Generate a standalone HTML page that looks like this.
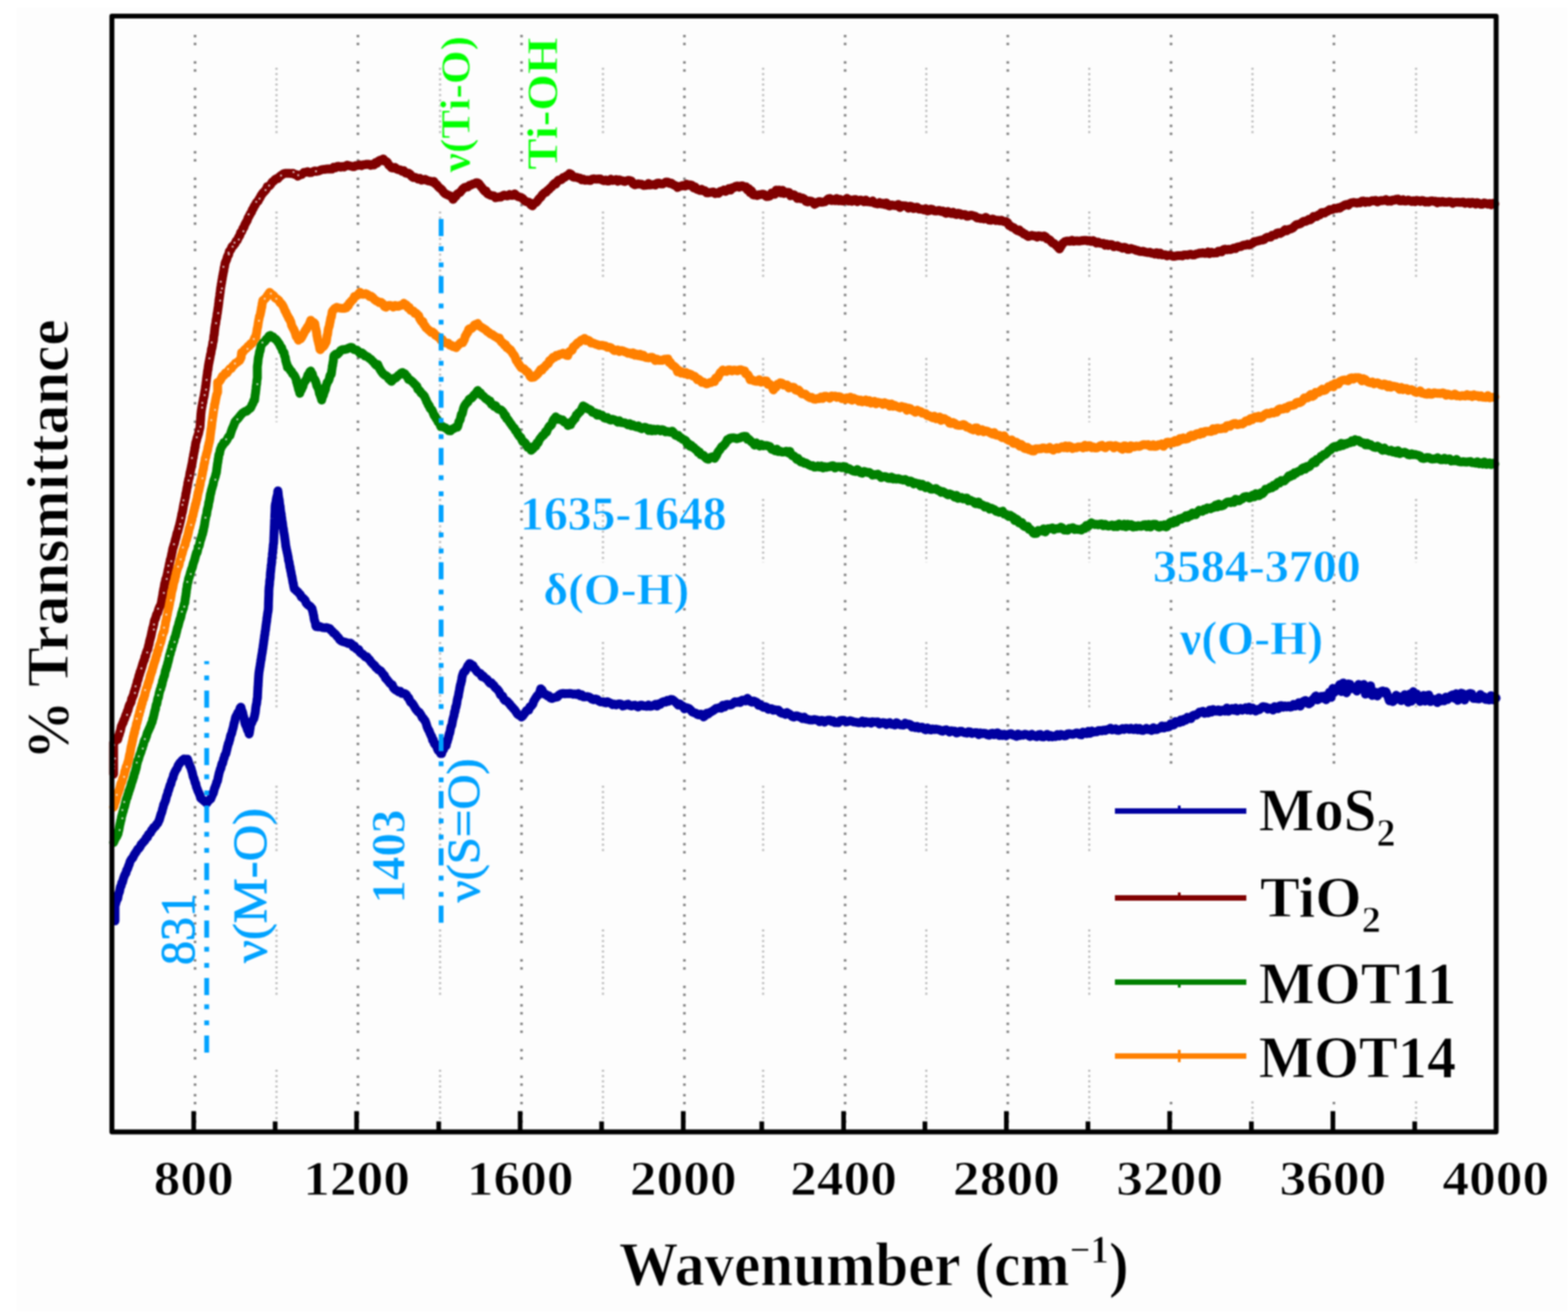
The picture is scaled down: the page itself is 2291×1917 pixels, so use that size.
<!DOCTYPE html>
<html><head><meta charset="utf-8"><title>FTIR spectra</title><style>html,body{margin:0;padding:0;background:#fff;}svg{display:block;filter:blur(1px);}</style></head><body>
<svg width="2291" height="1917" viewBox="0 0 2291 1917">
<rect x="0" y="0" width="2291" height="1917" fill="#ffffff"/>
<rect x="24" y="11" width="2267" height="1906" fill="#fdfdfd"/>
<g><line x1="285.0" y1="51" x2="285.0" y2="1650" stroke="#808080" stroke-width="3.8" stroke-dasharray="3.5 8.1 3.5 23.5 3.5 8.1 3.5 23.5 3.5 8.1 3.5 11.9 3.5 8.1 3.5 11.9"/><line x1="523.0" y1="51" x2="523.0" y2="1650" stroke="#808080" stroke-width="3.8" stroke-dasharray="3.5 8.1 3.5 23.5 3.5 8.1 3.5 23.5 3.5 8.1 3.5 11.9 3.5 8.1 3.5 11.9"/><line x1="762.0" y1="51" x2="762.0" y2="1650" stroke="#808080" stroke-width="3.8" stroke-dasharray="3.5 8.1 3.5 23.5 3.5 8.1 3.5 23.5 3.5 8.1 3.5 11.9 3.5 8.1 3.5 11.9"/><line x1="1000.0" y1="51" x2="1000.0" y2="1650" stroke="#808080" stroke-width="3.8" stroke-dasharray="3.5 8.1 3.5 23.5 3.5 8.1 3.5 23.5 3.5 8.1 3.5 11.9 3.5 8.1 3.5 11.9"/><line x1="1234.8" y1="51" x2="1234.8" y2="1650" stroke="#808080" stroke-width="3.8" stroke-dasharray="3.5 8.1 3.5 23.5 3.5 8.1 3.5 23.5 3.5 8.1 3.5 11.9 3.5 8.1 3.5 11.9"/><line x1="1472.5" y1="51" x2="1472.5" y2="1650" stroke="#808080" stroke-width="3.8" stroke-dasharray="3.5 8.1 3.5 23.5 3.5 8.1 3.5 23.5 3.5 8.1 3.5 11.9 3.5 8.1 3.5 11.9"/><line x1="1711.0" y1="51" x2="1711.0" y2="1650" stroke="#808080" stroke-width="3.8" stroke-dasharray="3.5 8.1 3.5 23.5 3.5 8.1 3.5 23.5 3.5 8.1 3.5 11.9 3.5 8.1 3.5 11.9"/><line x1="1949.0" y1="51" x2="1949.0" y2="1650" stroke="#808080" stroke-width="3.8" stroke-dasharray="3.5 8.1 3.5 23.5 3.5 8.1 3.5 23.5 3.5 8.1 3.5 11.9 3.5 8.1 3.5 11.9"/><line x1="404.0" y1="99" x2="404.0" y2="197" stroke="#b8b8b8" stroke-width="3" stroke-dasharray="3 4.7"/><line x1="404.0" y1="309" x2="404.0" y2="407" stroke="#b8b8b8" stroke-width="3" stroke-dasharray="3 4.7"/><line x1="404.0" y1="523" x2="404.0" y2="617" stroke="#b8b8b8" stroke-width="3" stroke-dasharray="3 4.7"/><line x1="404.0" y1="729" x2="404.0" y2="822" stroke="#b8b8b8" stroke-width="3" stroke-dasharray="3 4.7"/><line x1="404.0" y1="938" x2="404.0" y2="1036" stroke="#b8b8b8" stroke-width="3" stroke-dasharray="3 4.7"/><line x1="404.0" y1="1148" x2="404.0" y2="1246" stroke="#b8b8b8" stroke-width="3" stroke-dasharray="3 4.7"/><line x1="404.0" y1="1358" x2="404.0" y2="1456" stroke="#b8b8b8" stroke-width="3" stroke-dasharray="3 4.7"/><line x1="404.0" y1="1563" x2="404.0" y2="1650" stroke="#b8b8b8" stroke-width="3" stroke-dasharray="3 4.7"/><line x1="643.0" y1="99" x2="643.0" y2="197" stroke="#b8b8b8" stroke-width="3" stroke-dasharray="3 4.7"/><line x1="643.0" y1="309" x2="643.0" y2="407" stroke="#b8b8b8" stroke-width="3" stroke-dasharray="3 4.7"/><line x1="643.0" y1="523" x2="643.0" y2="617" stroke="#b8b8b8" stroke-width="3" stroke-dasharray="3 4.7"/><line x1="643.0" y1="729" x2="643.0" y2="822" stroke="#b8b8b8" stroke-width="3" stroke-dasharray="3 4.7"/><line x1="643.0" y1="938" x2="643.0" y2="1036" stroke="#b8b8b8" stroke-width="3" stroke-dasharray="3 4.7"/><line x1="643.0" y1="1148" x2="643.0" y2="1246" stroke="#b8b8b8" stroke-width="3" stroke-dasharray="3 4.7"/><line x1="643.0" y1="1358" x2="643.0" y2="1456" stroke="#b8b8b8" stroke-width="3" stroke-dasharray="3 4.7"/><line x1="643.0" y1="1563" x2="643.0" y2="1650" stroke="#b8b8b8" stroke-width="3" stroke-dasharray="3 4.7"/><line x1="881.0" y1="99" x2="881.0" y2="197" stroke="#b8b8b8" stroke-width="3" stroke-dasharray="3 4.7"/><line x1="881.0" y1="309" x2="881.0" y2="407" stroke="#b8b8b8" stroke-width="3" stroke-dasharray="3 4.7"/><line x1="881.0" y1="523" x2="881.0" y2="617" stroke="#b8b8b8" stroke-width="3" stroke-dasharray="3 4.7"/><line x1="881.0" y1="729" x2="881.0" y2="822" stroke="#b8b8b8" stroke-width="3" stroke-dasharray="3 4.7"/><line x1="881.0" y1="938" x2="881.0" y2="1036" stroke="#b8b8b8" stroke-width="3" stroke-dasharray="3 4.7"/><line x1="881.0" y1="1148" x2="881.0" y2="1246" stroke="#b8b8b8" stroke-width="3" stroke-dasharray="3 4.7"/><line x1="881.0" y1="1358" x2="881.0" y2="1456" stroke="#b8b8b8" stroke-width="3" stroke-dasharray="3 4.7"/><line x1="881.0" y1="1563" x2="881.0" y2="1650" stroke="#b8b8b8" stroke-width="3" stroke-dasharray="3 4.7"/><line x1="1115.0" y1="99" x2="1115.0" y2="197" stroke="#b8b8b8" stroke-width="3" stroke-dasharray="3 4.7"/><line x1="1115.0" y1="309" x2="1115.0" y2="407" stroke="#b8b8b8" stroke-width="3" stroke-dasharray="3 4.7"/><line x1="1115.0" y1="523" x2="1115.0" y2="617" stroke="#b8b8b8" stroke-width="3" stroke-dasharray="3 4.7"/><line x1="1115.0" y1="729" x2="1115.0" y2="822" stroke="#b8b8b8" stroke-width="3" stroke-dasharray="3 4.7"/><line x1="1115.0" y1="938" x2="1115.0" y2="1036" stroke="#b8b8b8" stroke-width="3" stroke-dasharray="3 4.7"/><line x1="1115.0" y1="1148" x2="1115.0" y2="1246" stroke="#b8b8b8" stroke-width="3" stroke-dasharray="3 4.7"/><line x1="1115.0" y1="1358" x2="1115.0" y2="1456" stroke="#b8b8b8" stroke-width="3" stroke-dasharray="3 4.7"/><line x1="1115.0" y1="1563" x2="1115.0" y2="1650" stroke="#b8b8b8" stroke-width="3" stroke-dasharray="3 4.7"/><line x1="1353.4" y1="99" x2="1353.4" y2="197" stroke="#b8b8b8" stroke-width="3" stroke-dasharray="3 4.7"/><line x1="1353.4" y1="309" x2="1353.4" y2="407" stroke="#b8b8b8" stroke-width="3" stroke-dasharray="3 4.7"/><line x1="1353.4" y1="523" x2="1353.4" y2="617" stroke="#b8b8b8" stroke-width="3" stroke-dasharray="3 4.7"/><line x1="1353.4" y1="729" x2="1353.4" y2="822" stroke="#b8b8b8" stroke-width="3" stroke-dasharray="3 4.7"/><line x1="1353.4" y1="938" x2="1353.4" y2="1036" stroke="#b8b8b8" stroke-width="3" stroke-dasharray="3 4.7"/><line x1="1353.4" y1="1148" x2="1353.4" y2="1246" stroke="#b8b8b8" stroke-width="3" stroke-dasharray="3 4.7"/><line x1="1353.4" y1="1358" x2="1353.4" y2="1456" stroke="#b8b8b8" stroke-width="3" stroke-dasharray="3 4.7"/><line x1="1353.4" y1="1563" x2="1353.4" y2="1650" stroke="#b8b8b8" stroke-width="3" stroke-dasharray="3 4.7"/><line x1="1591.5" y1="99" x2="1591.5" y2="197" stroke="#b8b8b8" stroke-width="3" stroke-dasharray="3 4.7"/><line x1="1591.5" y1="309" x2="1591.5" y2="407" stroke="#b8b8b8" stroke-width="3" stroke-dasharray="3 4.7"/><line x1="1591.5" y1="523" x2="1591.5" y2="617" stroke="#b8b8b8" stroke-width="3" stroke-dasharray="3 4.7"/><line x1="1591.5" y1="729" x2="1591.5" y2="822" stroke="#b8b8b8" stroke-width="3" stroke-dasharray="3 4.7"/><line x1="1591.5" y1="938" x2="1591.5" y2="1036" stroke="#b8b8b8" stroke-width="3" stroke-dasharray="3 4.7"/><line x1="1591.5" y1="1148" x2="1591.5" y2="1246" stroke="#b8b8b8" stroke-width="3" stroke-dasharray="3 4.7"/><line x1="1591.5" y1="1358" x2="1591.5" y2="1456" stroke="#b8b8b8" stroke-width="3" stroke-dasharray="3 4.7"/><line x1="1591.5" y1="1563" x2="1591.5" y2="1650" stroke="#b8b8b8" stroke-width="3" stroke-dasharray="3 4.7"/><line x1="1830.0" y1="99" x2="1830.0" y2="197" stroke="#b8b8b8" stroke-width="3" stroke-dasharray="3 4.7"/><line x1="1830.0" y1="309" x2="1830.0" y2="407" stroke="#b8b8b8" stroke-width="3" stroke-dasharray="3 4.7"/><line x1="1830.0" y1="523" x2="1830.0" y2="617" stroke="#b8b8b8" stroke-width="3" stroke-dasharray="3 4.7"/><line x1="1830.0" y1="729" x2="1830.0" y2="822" stroke="#b8b8b8" stroke-width="3" stroke-dasharray="3 4.7"/><line x1="1830.0" y1="938" x2="1830.0" y2="1036" stroke="#b8b8b8" stroke-width="3" stroke-dasharray="3 4.7"/><line x1="1830.0" y1="1148" x2="1830.0" y2="1246" stroke="#b8b8b8" stroke-width="3" stroke-dasharray="3 4.7"/><line x1="1830.0" y1="1358" x2="1830.0" y2="1456" stroke="#b8b8b8" stroke-width="3" stroke-dasharray="3 4.7"/><line x1="1830.0" y1="1563" x2="1830.0" y2="1650" stroke="#b8b8b8" stroke-width="3" stroke-dasharray="3 4.7"/><line x1="2069.0" y1="99" x2="2069.0" y2="197" stroke="#b8b8b8" stroke-width="3" stroke-dasharray="3 4.7"/><line x1="2069.0" y1="309" x2="2069.0" y2="407" stroke="#b8b8b8" stroke-width="3" stroke-dasharray="3 4.7"/><line x1="2069.0" y1="523" x2="2069.0" y2="617" stroke="#b8b8b8" stroke-width="3" stroke-dasharray="3 4.7"/><line x1="2069.0" y1="729" x2="2069.0" y2="822" stroke="#b8b8b8" stroke-width="3" stroke-dasharray="3 4.7"/><line x1="2069.0" y1="938" x2="2069.0" y2="1036" stroke="#b8b8b8" stroke-width="3" stroke-dasharray="3 4.7"/><line x1="2069.0" y1="1148" x2="2069.0" y2="1246" stroke="#b8b8b8" stroke-width="3" stroke-dasharray="3 4.7"/><line x1="2069.0" y1="1358" x2="2069.0" y2="1456" stroke="#b8b8b8" stroke-width="3" stroke-dasharray="3 4.7"/><line x1="2069.0" y1="1563" x2="2069.0" y2="1650" stroke="#b8b8b8" stroke-width="3" stroke-dasharray="3 4.7"/></g>
<g><text transform="translate(685.89,252.00) rotate(-90) scale(0.9590,0.9368)" style="font-family:'Liberation Serif','Times New Roman',serif;font-size:66px;font-weight:bold" fill="#00ff00" stroke="#fdfdfd" stroke-width="0.8" text-anchor="start">ν(Ti-O)</text><text transform="translate(813.54,248.01) rotate(-90) scale(1.0085,0.9466)" style="font-family:'Liberation Serif','Times New Roman',serif;font-size:68px;font-weight:bold" fill="#00ff00" stroke="#fdfdfd" stroke-width="0.8" text-anchor="start">Ti-OH</text><text transform="translate(759.87,773.96) rotate(0) scale(1.0243,1.0181)" style="font-family:'Liberation Serif','Times New Roman',serif;font-size:68px;font-weight:bold" fill="#00a2ff" stroke="#fdfdfd" stroke-width="0.8" text-anchor="start">1635-1648</text><text transform="translate(793.96,883.36) rotate(0) scale(1.0196,0.9744)" style="font-family:'Liberation Serif','Times New Roman',serif;font-size:68px;font-weight:bold" fill="#00a2ff" stroke="#fdfdfd" stroke-width="0.8" text-anchor="start">δ(O-H)</text><text transform="translate(1684.42,850.00) rotate(0) scale(1.0311,1.0009)" style="font-family:'Liberation Serif','Times New Roman',serif;font-size:68px;font-weight:bold" fill="#00a2ff" stroke="#fdfdfd" stroke-width="0.8" text-anchor="start">3584-3700</text><text transform="translate(1724.00,955.55) rotate(0) scale(1.0249,1.0332)" style="font-family:'Liberation Serif','Times New Roman',serif;font-size:68px;font-weight:bold" fill="#00a2ff" stroke="#fdfdfd" stroke-width="0.8" text-anchor="start">ν(O-H)</text><text transform="translate(284.40,1410.09) rotate(-90) scale(1.0316,1.0652)" style="font-family:'Liberation Serif','Times New Roman',serif;font-size:68px;font-weight:normal" fill="#00a2ff" stroke="#00a2ff" stroke-width="1.0" text-anchor="start">831</text><text transform="translate(388.55,1407.00) rotate(-90) scale(1.0878,1.0332)" style="font-family:'Liberation Serif','Times New Roman',serif;font-size:68px;font-weight:normal" fill="#00a2ff" stroke="#00a2ff" stroke-width="1.0" text-anchor="start">ν(M-O)</text><text transform="translate(590.93,1320.20) rotate(-90) scale(1.0400,1.0694)" style="font-family:'Liberation Serif','Times New Roman',serif;font-size:66px;font-weight:bold" fill="#00a2ff" stroke="#fdfdfd" stroke-width="0.8" text-anchor="start">1403</text><text transform="translate(699.51,1318.53) rotate(-90) scale(1.0455,1.0005)" style="font-family:'Liberation Serif','Times New Roman',serif;font-size:68px;font-weight:normal" fill="#00a2ff" stroke="#00a2ff" stroke-width="1.0" text-anchor="start">ν(S=O)</text></g>
<path d="M168.0,1345.6 L168.0,1342.4 L168.0,1340.9 L168.0,1336.7 L168.0,1335.1 L168.0,1331.9 L168.0,1328.4 L168.0,1326.8 L168.0,1322.9 L168.8,1321.4 L169.6,1318.2 L170.4,1315.8 L171.2,1314.2 L172.0,1312.8 L172.7,1308.4 L173.3,1306.0 L174.0,1304.3 L174.7,1302.4 L175.3,1298.9 L176.0,1295.7 L177.0,1294.5 L178.0,1289.6 L179.0,1288.9 L180.0,1284.8 L181.0,1281.8 L182.0,1279.1 L183.0,1277.0 L184.0,1275.8 L185.0,1271.7 L186.0,1270.2 L187.0,1267.8 L188.0,1264.7 L189.0,1262.6 L190.0,1258.9 L191.3,1256.6 L192.7,1254.6 L194.0,1253.4 L195.3,1250.5 L196.7,1247.9 L198.0,1246.2 L199.7,1243.6 L201.3,1240.8 L203.0,1239.7 L204.7,1237.2 L206.3,1233.7 L208.0,1232.2 L209.5,1230.1 L211.0,1228.9 L212.5,1226.6 L214.0,1223.5 L215.5,1223.2 L217.0,1219.1 L218.5,1217.8 L220.0,1216.6 L221.5,1213.1 L223.0,1212.0 L224.5,1208.9 L226.0,1208.4 L227.5,1206.7 L229.0,1204.2 L230.5,1202.9 L232.0,1199.5 L232.8,1197.9 L233.6,1195.0 L234.4,1192.4 L235.2,1189.5 L236.0,1187.9 L236.8,1185.5 L237.6,1181.7 L238.4,1179.6 L239.2,1175.5 L240.0,1174.5 L240.8,1172.0 L241.6,1170.4 L242.4,1167.6 L243.2,1163.9 L244.0,1161.7 L244.8,1160.0 L245.6,1156.0 L246.4,1154.7 L247.2,1151.6 L248.0,1149.0 L248.8,1146.5 L249.6,1145.9 L250.4,1141.9 L251.2,1139.8 L252.0,1137.7 L252.8,1136.5 L253.6,1132.1 L254.4,1130.7 L255.2,1128.5 L256.0,1127.0 L257.4,1124.5 L258.9,1122.4 L260.3,1118.6 L261.7,1116.6 L263.1,1114.2 L264.6,1113.3 L266.0,1111.2 L268.7,1109.1 L271.3,1109.2 L274.0,1109.3 L275.0,1112.0 L276.0,1115.3 L277.0,1118.2 L278.0,1120.1 L279.0,1122.1 L280.0,1125.8 L280.8,1128.2 L281.5,1131.2 L282.2,1134.7 L283.0,1136.5 L283.8,1138.5 L284.5,1141.3 L285.2,1144.0 L286.0,1144.8 L286.9,1149.5 L287.8,1151.6 L288.7,1154.3 L289.6,1156.5 L290.4,1157.9 L291.3,1160.4 L292.2,1162.1 L293.1,1165.9 L294.0,1166.9 L296.0,1168.4 L298.0,1170.2 L300.0,1171.6 L302.0,1173.6 L304.0,1170.8 L306.0,1168.7 L308.0,1167.1 L308.9,1164.5 L309.8,1162.8 L310.7,1159.4 L311.6,1159.2 L312.4,1156.1 L313.3,1152.4 L314.2,1150.2 L315.1,1148.0 L316.0,1145.6 L316.7,1142.6 L317.3,1142.0 L318.0,1140.0 L318.7,1136.1 L319.3,1133.7 L320.0,1130.2 L320.7,1127.8 L321.3,1126.0 L322.0,1123.4 L322.8,1122.5 L323.6,1118.3 L324.4,1115.5 L325.2,1115.6 L326.0,1112.1 L326.8,1108.7 L327.6,1107.3 L328.4,1103.6 L329.2,1102.5 L330.0,1101.3 L330.7,1098.4 L331.5,1095.4 L332.2,1091.7 L332.9,1089.5 L333.6,1086.4 L334.4,1085.4 L335.1,1082.3 L335.8,1080.4 L336.5,1076.6 L337.3,1073.8 L338.0,1072.8 L338.7,1070.8 L339.3,1068.0 L340.0,1065.5 L340.7,1063.1 L341.3,1060.4 L342.0,1056.6 L342.7,1054.9 L343.3,1052.1 L344.0,1048.7 L345.1,1046.2 L346.3,1044.3 L347.4,1041.6 L348.6,1040.2 L349.7,1038.4 L350.9,1034.4 L352.0,1033.2 L352.7,1036.0 L353.3,1038.6 L354.0,1039.6 L354.7,1041.9 L355.3,1044.6 L356.0,1047.2 L356.7,1049.9 L357.3,1053.7 L358.0,1057.1 L359.0,1059.6 L360.0,1061.3 L361.0,1064.4 L362.0,1067.5 L363.0,1068.2 L364.0,1072.4 L364.5,1070.1 L365.0,1066.8 L365.5,1063.7 L366.0,1059.9 L367.0,1056.8 L368.0,1056.1 L369.0,1052.5 L370.0,1051.5 L371.0,1049.6 L372.0,1045.7 L372.4,1043.1 L372.8,1042.0 L373.2,1038.8 L373.6,1034.7 L374.0,1032.0 L374.4,1029.5 L374.8,1028.9 L375.2,1026.0 L375.6,1021.6 L376.0,1020.9 L376.2,1018.7 L376.3,1015.2 L376.5,1011.7 L376.6,1009.7 L376.8,1005.9 L376.9,1003.0 L377.1,1003.0 L377.2,999.5 L377.4,996.5 L377.5,995.0 L377.7,991.1 L377.8,989.6 L378.0,986.9 L378.4,982.6 L378.8,980.1 L379.2,977.6 L379.6,974.9 L380.0,973.2 L380.4,969.7 L380.8,967.6 L381.2,964.2 L381.6,963.7 L382.0,959.6 L382.4,957.3 L382.8,955.0 L383.2,953.3 L383.6,949.4 L384.0,948.1 L384.4,944.4 L384.8,941.9 L385.2,939.3 L385.6,935.3 L386.0,933.8 L386.3,930.6 L386.7,927.6 L387.0,927.3 L387.3,923.1 L387.7,921.4 L388.0,919.6 L388.3,916.7 L388.7,913.5 L389.0,911.6 L389.3,909.2 L389.7,907.3 L390.0,902.9 L390.4,901.4 L390.8,897.7 L391.2,895.0 L391.6,893.5 L392.0,890.0 L392.1,887.7 L392.2,885.7 L392.2,883.6 L392.3,879.8 L392.4,877.8 L392.5,875.0 L392.6,872.5 L392.7,870.5 L392.8,867.4 L392.8,865.1 L392.9,862.4 L393.0,861.2 L393.2,858.0 L393.5,856.0 L393.8,853.7 L394.0,849.3 L394.2,847.7 L394.5,846.2 L394.8,843.4 L395.0,839.0 L395.2,836.5 L395.5,834.8 L395.8,831.3 L396.0,829.3 L396.2,826.3 L396.5,825.5 L396.8,823.3 L397.0,821.1 L397.2,816.6 L397.5,815.6 L397.8,812.9 L398.0,809.0 L398.2,808.5 L398.5,806.3 L398.8,801.7 L399.0,801.2 L399.2,797.2 L399.5,795.0 L399.8,793.8 L400.0,790.9 L400.1,786.6 L400.2,784.8 L400.3,782.5 L400.4,779.6 L400.5,776.7 L400.6,774.5 L400.7,773.1 L400.8,768.7 L400.9,767.6 L401.0,764.8 L401.1,761.2 L401.2,759.5 L401.3,757.8 L401.4,755.0 L401.5,751.3 L401.6,751.3 L401.7,748.3 L401.8,746.3 L401.9,741.4 L402.0,739.4 L402.5,736.0 L403.0,735.3 L403.5,731.1 L404.0,728.0 L404.5,726.0 L405.0,724.6 L405.5,721.6 L406.0,717.3 L406.4,719.7 L406.8,724.4 L407.1,726.1 L407.5,729.1 L407.9,730.0 L408.2,732.5 L408.6,736.9 L409.0,738.8 L409.4,740.4 L409.8,745.5 L410.1,747.2 L410.5,750.3 L410.9,751.0 L411.2,755.7 L411.6,756.2 L412.0,761.0 L412.4,762.4 L412.8,764.6 L413.1,767.6 L413.5,771.2 L413.9,771.9 L414.2,774.0 L414.6,777.6 L415.0,779.3 L415.4,781.4 L415.8,784.1 L416.1,786.3 L416.5,789.2 L416.9,792.0 L417.2,794.5 L417.6,798.2 L418.0,799.4 L418.5,802.5 L419.0,804.1 L419.5,807.1 L420.0,808.7 L420.5,811.8 L421.0,813.7 L421.5,818.1 L422.0,820.1 L422.5,821.6 L423.0,824.9 L423.5,828.7 L424.0,828.9 L424.5,833.4 L425.0,834.8 L425.5,837.5 L426.0,840.9 L426.5,842.2 L427.0,845.0 L427.5,848.0 L428.0,851.3 L428.5,852.1 L429.0,855.9 L429.5,858.1 L430.0,860.4 L431.8,861.7 L433.5,863.6 L435.2,864.8 L437.0,867.0 L438.8,868.8 L440.5,872.7 L442.2,873.3 L444.0,875.1 L445.7,876.8 L447.4,881.0 L449.1,883.0 L450.9,884.5 L452.6,885.4 L454.3,887.3 L456.0,889.4 L456.6,892.5 L457.2,894.2 L457.8,897.6 L458.4,899.7 L459.0,904.3 L459.6,906.9 L460.2,908.3 L460.8,910.1 L461.4,914.7 L462.0,915.5 L464.6,915.9 L467.1,915.2 L469.7,916.5 L472.3,917.1 L474.9,917.4 L477.4,916.9 L480.0,918.0 L481.8,918.4 L483.6,920.9 L485.4,922.2 L487.2,924.9 L489.0,925.7 L490.8,927.4 L492.6,930.0 L494.4,931.6 L496.2,934.4 L498.0,936.1 L500.8,937.5 L503.6,938.1 L506.4,939.0 L509.2,940.3 L512.0,939.7 L514.0,941.2 L516.0,944.8 L518.0,944.1 L520.0,947.5 L522.0,949.0 L524.0,949.0 L526.0,953.0 L528.0,954.9 L530.0,955.8 L532.0,957.8 L534.0,959.8 L536.0,959.5 L538.0,962.4 L540.0,964.0 L541.8,967.0 L543.6,968.9 L545.5,971.0 L547.3,972.2 L549.1,975.2 L550.9,976.5 L552.7,978.6 L554.5,979.2 L556.4,980.6 L558.2,982.9 L560.0,985.6 L561.6,986.8 L563.3,991.0 L564.9,992.2 L566.5,994.4 L568.2,996.4 L569.8,998.5 L571.5,1000.0 L573.1,1000.5 L574.7,1004.9 L576.4,1006.7 L578.0,1008.0 L580.3,1009.2 L582.6,1010.8 L584.9,1010.1 L587.1,1013.3 L589.4,1013.0 L591.7,1013.6 L594.0,1015.3 L595.6,1018.9 L597.1,1019.6 L598.7,1023.4 L600.2,1026.3 L601.8,1027.1 L603.3,1029.0 L604.9,1031.5 L606.4,1034.3 L608.0,1036.8 L609.5,1038.4 L611.0,1040.4 L612.5,1040.7 L614.0,1042.9 L615.5,1045.2 L617.0,1048.7 L618.5,1049.4 L620.0,1052.2 L621.0,1052.8 L622.0,1055.3 L623.0,1058.3 L624.0,1061.9 L625.0,1064.3 L626.0,1066.5 L627.0,1067.7 L628.0,1070.7 L629.0,1072.9 L630.0,1075.2 L631.0,1076.5 L632.0,1081.2 L633.2,1081.3 L634.4,1085.9 L635.6,1087.9 L636.8,1087.3 L638.0,1090.9 L639.2,1094.2 L640.4,1096.8 L641.6,1097.4 L642.8,1099.1 L644.0,1101.1 L645.3,1101.0 L646.7,1096.4 L648.0,1095.3 L649.3,1091.6 L650.7,1090.4 L652.0,1089.4 L652.7,1084.3 L653.5,1083.9 L654.2,1080.4 L654.9,1079.0 L655.6,1075.9 L656.4,1071.9 L657.1,1071.4 L657.8,1067.6 L658.5,1063.6 L659.3,1061.0 L660.0,1060.0 L660.6,1057.3 L661.1,1054.2 L661.7,1051.2 L662.3,1049.2 L662.9,1046.6 L663.4,1045.6 L664.0,1040.4 L664.6,1040.2 L665.1,1037.9 L665.7,1033.1 L666.3,1033.0 L666.9,1029.8 L667.4,1027.8 L668.0,1023.3 L668.5,1021.1 L669.1,1018.6 L669.6,1018.0 L670.1,1014.1 L670.7,1010.9 L671.2,1008.6 L671.7,1005.6 L672.3,1002.3 L672.8,1000.0 L673.3,999.7 L673.9,995.5 L674.4,995.0 L674.9,990.3 L675.5,987.8 L676.0,986.0 L677.2,982.8 L678.5,981.1 L679.8,980.7 L681.0,978.2 L682.2,975.7 L683.5,972.9 L684.8,971.6 L686.0,969.4 L687.8,970.2 L689.5,972.7 L691.2,972.6 L693.0,976.7 L694.8,977.8 L696.5,980.8 L698.2,982.5 L700.0,983.3 L702.0,984.2 L704.0,988.6 L706.0,987.6 L708.0,990.3 L710.0,991.5 L712.0,993.0 L714.0,996.0 L716.0,998.3 L718.0,997.6 L720.0,1000.5 L721.6,1001.4 L723.2,1004.2 L724.8,1005.7 L726.4,1006.9 L728.0,1008.9 L729.6,1011.1 L731.2,1015.3 L732.8,1016.0 L734.4,1017.1 L736.0,1021.3 L737.8,1023.6 L739.5,1023.8 L741.2,1024.8 L743.0,1027.0 L744.8,1028.7 L746.5,1031.5 L748.2,1032.7 L750.0,1035.2 L752.0,1037.2 L754.0,1040.2 L756.0,1043.3 L758.0,1044.8 L760.0,1045.7 L762.0,1047.7 L763.8,1046.1 L765.5,1043.6 L767.2,1041.5 L769.0,1038.6 L770.8,1037.3 L772.5,1037.5 L774.2,1032.8 L776.0,1032.0 L777.3,1030.2 L778.5,1028.8 L779.8,1024.5 L781.1,1022.5 L782.4,1020.3 L783.6,1018.6 L784.9,1016.5 L786.2,1016.0 L787.5,1013.5 L788.7,1011.4 L790.0,1006.4 L792.0,1008.2 L794.0,1012.1 L796.0,1014.5 L798.0,1014.8 L800.0,1016.9 L802.0,1016.6 L804.0,1019.6 L806.6,1020.6 L809.2,1019.5 L811.8,1018.8 L814.4,1018.4 L817.0,1015.2 L819.6,1013.9 L822.2,1013.2 L824.8,1013.7 L827.4,1013.4 L830.0,1013.5 L832.5,1013.2 L835.0,1013.5 L837.5,1014.4 L840.0,1013.9 L842.5,1014.7 L845.0,1013.4 L847.5,1016.5 L850.0,1015.1 L852.5,1018.3 L855.0,1018.2 L857.5,1017.8 L860.0,1018.1 L862.5,1019.3 L865.0,1021.5 L867.5,1022.5 L870.0,1021.3 L872.5,1022.0 L875.0,1024.4 L877.5,1025.5 L880.0,1025.6 L882.5,1025.4 L885.0,1027.0 L887.5,1025.3 L890.0,1026.6 L892.5,1027.5 L895.0,1029.6 L897.5,1028.8 L900.0,1030.0 L902.5,1028.9 L905.0,1028.4 L907.5,1028.8 L910.0,1031.6 L912.5,1030.9 L915.0,1029.7 L917.5,1028.8 L920.0,1030.7 L922.5,1031.4 L925.0,1030.7 L927.5,1030.3 L930.0,1031.9 L932.5,1033.0 L935.0,1030.7 L937.5,1030.2 L940.0,1031.4 L942.5,1031.5 L945.0,1032.1 L947.5,1030.2 L950.0,1032.0 L952.5,1031.6 L955.0,1030.5 L957.5,1029.2 L960.0,1031.7 L962.5,1028.3 L965.0,1029.1 L967.5,1026.0 L970.0,1025.0 L972.5,1025.9 L975.0,1023.3 L977.5,1024.6 L980.0,1022.0 L982.2,1022.2 L984.4,1023.7 L986.7,1025.7 L988.9,1027.9 L991.1,1030.3 L993.3,1028.7 L995.6,1031.0 L997.8,1031.6 L1000.0,1035.7 L1002.3,1033.7 L1004.7,1034.4 L1007.0,1035.4 L1009.3,1037.6 L1011.7,1040.4 L1014.0,1041.4 L1016.3,1041.8 L1018.7,1043.8 L1021.0,1044.6 L1023.3,1043.4 L1025.7,1043.9 L1028.0,1047.6 L1030.3,1045.7 L1032.7,1042.0 L1035.0,1043.1 L1037.3,1040.9 L1039.7,1039.7 L1042.0,1038.4 L1044.3,1036.6 L1046.7,1034.9 L1049.0,1034.7 L1051.3,1033.8 L1053.7,1034.8 L1056.0,1030.6 L1058.6,1033.0 L1061.1,1029.5 L1063.7,1029.3 L1066.3,1030.3 L1068.9,1029.6 L1071.4,1027.5 L1074.0,1025.3 L1076.6,1026.2 L1079.1,1025.1 L1081.7,1026.4 L1084.3,1023.0 L1086.9,1022.9 L1089.4,1024.2 L1092.0,1020.3 L1094.3,1022.7 L1096.7,1025.2 L1099.0,1026.0 L1101.3,1024.3 L1103.7,1025.3 L1106.0,1026.4 L1108.3,1030.6 L1110.7,1029.1 L1113.0,1031.9 L1115.3,1033.5 L1117.7,1032.4 L1120.0,1033.1 L1122.5,1036.5 L1125.0,1035.9 L1127.5,1035.4 L1130.0,1037.8 L1132.5,1037.1 L1135.0,1037.7 L1137.5,1037.4 L1140.0,1041.0 L1142.5,1042.3 L1145.0,1042.0 L1147.5,1043.9 L1150.0,1041.2 L1152.5,1042.7 L1155.0,1044.4 L1157.5,1047.0 L1160.0,1047.7 L1162.5,1046.1 L1165.0,1046.1 L1167.5,1047.2 L1170.0,1048.0 L1172.5,1050.1 L1175.0,1047.8 L1177.5,1050.7 L1180.0,1050.9 L1182.5,1051.7 L1185.0,1052.0 L1187.5,1051.9 L1190.0,1051.3 L1192.5,1051.8 L1195.0,1052.5 L1197.5,1054.6 L1200.0,1052.4 L1202.5,1052.8 L1205.0,1055.0 L1207.5,1053.0 L1210.0,1052.3 L1212.5,1052.2 L1215.0,1054.2 L1217.5,1053.3 L1220.0,1055.8 L1222.5,1055.5 L1225.0,1055.9 L1227.5,1053.1 L1230.0,1052.4 L1232.5,1052.4 L1235.0,1054.0 L1237.5,1054.8 L1240.0,1053.8 L1242.5,1053.1 L1245.0,1053.9 L1247.5,1054.8 L1250.0,1055.2 L1252.5,1055.6 L1255.0,1056.1 L1257.5,1055.5 L1260.0,1053.5 L1262.5,1056.5 L1265.0,1054.4 L1267.5,1055.6 L1270.0,1055.0 L1272.5,1056.6 L1275.0,1054.6 L1277.5,1054.9 L1280.0,1055.0 L1282.5,1054.8 L1285.0,1057.8 L1287.5,1056.7 L1290.0,1055.8 L1292.5,1056.2 L1295.0,1058.7 L1297.5,1056.9 L1300.0,1055.9 L1302.5,1058.3 L1305.0,1057.9 L1307.5,1059.3 L1310.0,1055.9 L1312.5,1057.5 L1315.0,1059.0 L1317.5,1059.2 L1320.0,1059.6 L1322.5,1056.7 L1325.0,1058.2 L1327.5,1058.0 L1330.0,1058.8 L1332.5,1062.4 L1335.0,1061.3 L1337.5,1063.2 L1340.0,1061.5 L1342.5,1064.0 L1345.0,1062.8 L1347.5,1062.5 L1350.0,1065.1 L1352.5,1066.3 L1355.0,1063.4 L1357.5,1065.9 L1360.0,1066.5 L1362.5,1065.1 L1365.0,1066.0 L1367.5,1065.3 L1370.0,1065.8 L1372.5,1066.3 L1375.0,1067.9 L1377.5,1068.4 L1380.0,1066.8 L1382.5,1066.3 L1385.0,1067.8 L1387.5,1069.5 L1390.0,1067.7 L1392.5,1068.5 L1395.0,1068.3 L1397.5,1070.9 L1400.0,1070.2 L1402.5,1068.4 L1405.0,1068.6 L1407.5,1069.9 L1410.0,1070.7 L1412.5,1071.2 L1415.0,1069.1 L1417.5,1069.5 L1420.0,1071.8 L1422.5,1070.8 L1425.0,1070.4 L1427.5,1070.6 L1430.0,1073.4 L1432.5,1070.9 L1435.0,1072.0 L1437.5,1071.3 L1440.0,1071.7 L1442.5,1073.6 L1445.0,1074.3 L1447.5,1071.8 L1450.0,1071.3 L1452.5,1073.6 L1455.0,1071.5 L1457.5,1070.8 L1460.0,1074.7 L1462.5,1072.8 L1465.0,1074.6 L1467.5,1073.0 L1470.0,1075.1 L1472.5,1073.5 L1475.0,1072.4 L1477.5,1071.9 L1480.0,1074.2 L1482.5,1074.6 L1485.0,1075.8 L1487.5,1072.4 L1490.0,1074.7 L1492.5,1073.7 L1495.0,1074.3 L1497.5,1072.8 L1500.0,1073.4 L1502.5,1074.5 L1505.0,1076.2 L1507.5,1072.8 L1510.0,1074.5 L1512.5,1075.8 L1515.0,1076.5 L1517.5,1073.4 L1520.0,1073.1 L1522.5,1076.6 L1525.0,1076.7 L1527.5,1074.7 L1530.0,1073.0 L1532.5,1076.7 L1535.0,1074.4 L1537.5,1076.7 L1540.0,1075.5 L1542.5,1076.2 L1545.0,1073.2 L1547.5,1075.6 L1550.0,1073.1 L1552.5,1073.7 L1555.0,1075.3 L1557.5,1075.1 L1560.0,1072.2 L1562.5,1072.1 L1565.0,1072.7 L1567.5,1073.0 L1570.0,1072.3 L1572.5,1071.0 L1575.0,1071.3 L1577.5,1073.1 L1580.0,1073.7 L1582.5,1069.7 L1585.0,1071.5 L1587.5,1072.0 L1590.0,1068.5 L1592.5,1071.6 L1595.0,1068.1 L1597.5,1069.8 L1600.0,1069.2 L1602.5,1069.2 L1605.0,1067.4 L1607.5,1067.5 L1610.0,1067.9 L1612.5,1066.8 L1615.0,1067.4 L1617.5,1066.1 L1620.0,1065.7 L1622.5,1063.9 L1625.0,1066.5 L1627.5,1066.0 L1630.0,1064.9 L1632.5,1067.1 L1635.0,1067.2 L1637.5,1065.8 L1640.0,1064.6 L1642.5,1065.9 L1645.0,1064.3 L1647.5,1064.4 L1650.0,1065.7 L1652.5,1064.2 L1655.0,1065.7 L1657.5,1066.0 L1660.0,1064.0 L1662.5,1066.6 L1665.0,1064.2 L1667.5,1067.0 L1670.0,1067.2 L1672.5,1066.1 L1675.0,1064.1 L1677.5,1066.0 L1680.0,1065.5 L1682.5,1067.4 L1685.1,1063.3 L1687.6,1065.9 L1690.2,1066.0 L1692.7,1064.3 L1695.3,1064.1 L1697.8,1060.8 L1700.4,1063.8 L1702.9,1061.1 L1705.5,1062.6 L1708.0,1061.9 L1710.5,1057.6 L1712.9,1059.5 L1715.4,1059.2 L1717.8,1054.3 L1720.3,1054.7 L1722.8,1055.7 L1725.2,1051.9 L1727.7,1054.5 L1730.2,1050.6 L1732.6,1052.3 L1735.1,1048.1 L1737.5,1048.9 L1740.0,1050.1 L1742.5,1045.6 L1745.0,1044.8 L1747.5,1045.0 L1750.0,1043.1 L1752.5,1040.6 L1755.0,1040.4 L1757.5,1039.3 L1760.0,1042.3 L1762.5,1040.7 L1765.0,1041.6 L1767.5,1037.5 L1770.0,1040.5 L1772.5,1036.7 L1775.0,1038.7 L1777.5,1039.0 L1780.0,1037.2 L1782.5,1039.8 L1785.0,1037.8 L1787.5,1037.7 L1790.0,1039.1 L1792.5,1034.5 L1795.0,1039.3 L1797.5,1037.0 L1800.0,1035.4 L1802.5,1037.7 L1805.0,1034.6 L1807.5,1038.8 L1810.0,1036.5 L1812.5,1035.2 L1815.0,1037.6 L1817.5,1035.7 L1820.0,1034.1 L1822.5,1037.5 L1825.0,1033.3 L1827.5,1037.9 L1830.0,1034.5 L1832.5,1036.9 L1835.0,1039.0 L1837.5,1036.5 L1840.0,1037.0 L1842.5,1034.7 L1845.0,1032.6 L1847.5,1032.7 L1850.0,1033.3 L1852.5,1036.1 L1855.0,1034.8 L1857.5,1035.2 L1860.0,1037.6 L1862.5,1032.5 L1865.0,1033.0 L1867.5,1035.6 L1870.0,1031.3 L1872.5,1031.1 L1875.0,1033.3 L1877.5,1031.5 L1880.0,1033.0 L1882.5,1031.5 L1885.0,1033.2 L1887.5,1032.6 L1890.0,1029.3 L1892.5,1031.5 L1895.0,1029.8 L1897.5,1026.8 L1900.0,1031.7 L1902.5,1026.1 L1905.0,1024.6 L1907.5,1023.4 L1910.0,1027.2 L1912.5,1028.5 L1915.0,1026.9 L1917.5,1022.6 L1920.0,1020.3 L1922.5,1016.8 L1925.0,1022.6 L1927.5,1020.9 L1930.0,1017.6 L1932.5,1020.2 L1935.0,1017.0 L1937.5,1022.4 L1940.0,1019.0 L1942.5,1011.4 L1945.0,1019.0 L1947.5,1005.8 L1950.0,1011.5 L1952.5,1008.4 L1955.0,1004.5 L1957.5,1000.3 L1960.0,1010.5 L1962.5,997.9 L1965.0,1006.3 L1967.5,1012.3 L1970.0,999.3 L1972.5,999.9 L1975.0,1006.2 L1977.5,1004.4 L1980.0,1006.3 L1982.5,1009.7 L1985.0,1000.1 L1987.5,1003.0 L1990.0,1003.5 L1992.5,1000.1 L1995.0,1014.2 L1997.5,1013.2 L2000.0,1012.8 L2002.5,1002.1 L2005.0,1016.2 L2007.5,1015.3 L2010.0,1011.4 L2012.5,1016.9 L2015.0,1013.2 L2017.5,1010.6 L2020.0,1009.7 L2022.5,1012.7 L2025.0,1010.6 L2027.5,1016.4 L2030.0,1024.0 L2032.5,1023.0 L2035.0,1025.3 L2037.5,1023.0 L2040.0,1015.8 L2042.5,1020.2 L2045.0,1018.2 L2047.5,1023.7 L2050.0,1019.4 L2052.5,1015.1 L2055.0,1021.0 L2057.5,1026.1 L2060.0,1014.0 L2062.5,1024.4 L2065.0,1010.6 L2067.5,1014.4 L2070.0,1013.9 L2072.5,1021.9 L2075.0,1025.0 L2077.5,1022.2 L2080.0,1016.1 L2082.5,1024.4 L2085.0,1016.5 L2087.5,1015.4 L2090.0,1025.1 L2092.5,1021.3 L2095.0,1022.3 L2097.5,1022.1 L2100.0,1026.5 L2102.5,1019.5 L2105.0,1024.3 L2107.5,1022.2 L2110.0,1024.1 L2112.5,1018.6 L2115.0,1022.1 L2117.5,1020.0 L2120.0,1016.6 L2122.5,1015.3 L2125.0,1020.2 L2127.5,1013.6 L2130.0,1023.3 L2132.5,1014.2 L2135.0,1012.8 L2137.5,1013.7 L2140.0,1022.8 L2142.6,1016.4 L2145.1,1014.3 L2147.7,1013.3 L2150.2,1013.6 L2152.8,1020.6 L2155.3,1020.0 L2157.9,1020.8 L2160.4,1021.2 L2163.0,1014.8 L2165.6,1019.9 L2168.1,1018.0 L2170.7,1022.1 L2173.2,1022.1 L2175.8,1022.6 L2178.3,1016.4 L2180.9,1022.4 L2183.4,1022.7 L2186.0,1020.0" fill="none" stroke="#0000a0" stroke-width="13" stroke-linejoin="round" stroke-linecap="round"/>
<path d="M166.0,1131.1 L166.0,1126.5 L166.0,1124.1 L166.0,1121.3 L166.0,1118.5 L166.0,1117.9 L166.0,1115.2 L166.0,1112.2 L166.0,1110.1 L166.0,1107.0 L166.0,1103.6 L166.0,1100.6 L166.0,1098.0 L166.0,1097.0 L166.0,1093.1 L166.0,1090.7 L166.0,1088.4 L166.0,1084.8 L168.0,1083.4 L170.0,1081.5 L172.0,1080.5 L172.8,1077.2 L173.5,1074.6 L174.2,1073.6 L175.0,1070.0 L175.8,1068.3 L176.5,1065.3 L177.2,1061.4 L178.0,1059.8 L179.0,1057.3 L180.0,1055.7 L181.0,1052.1 L182.0,1050.5 L183.0,1047.6 L184.0,1044.3 L185.0,1043.4 L186.0,1039.0 L186.9,1038.2 L187.8,1034.1 L188.7,1031.2 L189.6,1029.1 L190.5,1027.9 L191.5,1025.9 L192.4,1021.0 L193.3,1019.6 L194.2,1017.1 L195.1,1015.3 L196.0,1011.2 L196.7,1009.6 L197.4,1006.8 L198.1,1005.5 L198.9,1001.7 L199.6,1000.9 L200.3,996.9 L201.0,994.3 L201.7,993.1 L202.4,990.1 L203.1,986.8 L203.9,985.6 L204.6,981.8 L205.3,981.1 L206.0,978.5 L206.8,976.2 L207.7,973.3 L208.5,970.1 L209.3,967.8 L210.2,965.2 L211.0,964.0 L211.8,959.5 L212.7,958.9 L213.5,954.3 L214.3,952.3 L215.2,949.9 L216.0,949.0 L216.6,945.5 L217.2,942.8 L217.8,941.5 L218.4,937.5 L218.9,935.6 L219.5,933.3 L220.1,931.3 L220.7,928.9 L221.3,926.1 L221.9,922.9 L222.5,920.4 L223.1,917.5 L223.6,916.7 L224.2,913.8 L224.8,911.5 L225.4,907.7 L226.0,905.9 L226.9,904.3 L227.8,901.5 L228.7,898.0 L229.6,896.5 L230.5,895.1 L231.5,891.2 L232.4,888.7 L233.3,886.6 L234.2,885.2 L235.1,883.2 L236.0,879.2 L236.4,876.5 L236.9,874.0 L237.3,871.6 L237.8,869.4 L238.2,865.8 L238.7,863.6 L239.1,860.6 L239.6,859.8 L240.0,856.6 L240.7,852.4 L241.3,851.8 L242.0,847.0 L242.7,845.0 L243.3,843.9 L244.0,840.7 L244.7,837.9 L245.3,834.5 L246.0,831.3 L246.5,829.8 L247.1,825.9 L247.6,823.6 L248.2,821.5 L248.7,818.1 L249.3,816.5 L249.8,814.9 L250.4,812.1 L250.9,809.1 L251.5,806.9 L252.0,803.9 L252.7,800.7 L253.3,799.4 L254.0,796.4 L254.7,794.8 L255.3,792.8 L256.0,789.2 L256.7,787.1 L257.3,785.1 L258.0,781.8 L258.7,778.9 L259.3,777.7 L260.0,775.6 L260.7,772.9 L261.3,770.3 L262.0,768.2 L262.7,765.3 L263.3,762.8 L264.0,759.9 L264.5,757.0 L265.0,755.3 L265.5,751.5 L266.0,749.8 L266.5,748.2 L267.0,745.5 L267.5,742.8 L268.0,739.4 L268.5,737.3 L269.0,734.9 L269.5,732.8 L270.0,729.8 L270.5,727.8 L271.0,725.9 L271.5,721.4 L272.0,720.0 L272.5,717.7 L273.0,714.1 L273.5,711.8 L274.0,710.4 L274.5,705.5 L275.0,704.1 L275.6,700.5 L276.1,699.4 L276.7,697.1 L277.2,693.4 L277.8,689.7 L278.3,688.2 L278.9,685.4 L279.4,683.2 L280.0,680.0 L280.5,677.9 L280.9,675.9 L281.4,672.7 L281.8,669.9 L282.3,668.8 L282.8,664.5 L283.2,663.2 L283.7,660.0 L284.2,658.5 L284.6,654.4 L285.1,654.1 L285.5,650.1 L286.0,646.9 L286.7,645.0 L287.3,642.9 L288.0,639.5 L288.7,638.0 L289.3,635.6 L290.0,633.8 L290.7,630.5 L291.3,627.9 L292.0,625.3 L292.2,624.0 L292.4,621.9 L292.6,618.3 L292.8,614.9 L293.0,613.8 L293.2,610.1 L293.4,607.1 L293.6,604.3 L293.8,603.3 L294.0,600.8 L294.5,597.7 L295.0,594.6 L295.5,592.2 L296.0,588.6 L296.5,587.8 L297.0,583.6 L297.5,581.7 L298.0,579.5 L298.5,576.8 L299.0,573.3 L299.5,570.2 L300.0,568.1 L300.3,564.4 L300.7,563.5 L301.0,559.6 L301.3,558.2 L301.7,554.1 L302.0,551.7 L302.4,548.9 L302.8,546.8 L303.1,543.7 L303.5,540.8 L303.9,540.1 L304.2,536.5 L304.6,533.9 L305.0,531.5 L305.5,529.3 L306.0,526.5 L306.5,524.3 L307.0,521.7 L307.5,518.3 L308.0,517.1 L308.5,514.4 L309.0,509.9 L309.5,509.3 L310.0,507.0 L310.5,504.2 L311.0,500.1 L311.5,499.3 L312.0,496.3 L312.3,492.1 L312.7,489.4 L313.0,489.1 L313.3,485.7 L313.7,482.0 L314.0,479.0 L314.4,476.5 L314.8,474.1 L315.2,472.9 L315.6,469.2 L316.0,466.1 L316.4,465.4 L316.8,462.5 L317.2,458.4 L317.6,457.6 L318.0,454.3 L318.3,452.2 L318.7,449.4 L319.0,447.5 L319.3,444.7 L319.7,442.4 L320.0,438.2 L320.3,437.0 L320.7,434.1 L321.0,432.1 L321.3,428.8 L321.7,427.5 L322.0,424.1 L322.4,420.7 L322.9,418.0 L323.3,415.1 L323.8,413.3 L324.2,409.6 L324.7,407.9 L325.1,404.4 L325.6,402.6 L326.0,400.0 L326.5,397.4 L327.0,395.6 L327.5,390.8 L328.0,390.2 L328.5,386.6 L329.0,384.2 L330.0,381.8 L331.0,379.7 L332.0,376.0 L333.0,373.5 L334.0,372.3 L335.0,367.5 L336.0,366.3 L337.5,364.1 L339.0,360.3 L340.5,359.5 L342.0,357.5 L343.5,355.8 L345.0,352.1 L346.5,351.5 L348.0,348.0 L349.2,345.6 L350.4,344.2 L351.6,339.6 L352.8,339.0 L354.0,336.3 L355.2,333.2 L356.4,332.1 L357.6,328.5 L358.8,326.3 L360.0,324.1 L361.2,322.2 L362.5,318.3 L363.8,316.3 L365.0,313.8 L366.2,311.6 L367.5,309.8 L368.8,306.0 L370.0,304.8 L371.4,301.5 L372.9,299.4 L374.3,296.6 L375.7,294.9 L377.1,293.8 L378.6,290.7 L380.0,288.7 L381.5,285.6 L383.0,283.5 L384.5,281.5 L386.0,280.2 L387.5,278.3 L389.0,276.7 L390.5,272.8 L392.0,272.6 L394.0,271.3 L396.0,268.7 L398.0,265.7 L400.0,264.6 L402.0,262.2 L404.0,260.9 L406.0,261.1 L408.0,258.5 L410.0,256.9 L412.0,255.5 L414.0,254.1 L416.8,253.3 L419.6,253.3 L422.4,253.3 L425.2,253.5 L428.0,253.2 L430.3,254.8 L432.7,254.9 L435.0,257.4 L438.0,255.6 L441.0,255.0 L444.0,252.0 L446.7,251.7 L449.3,250.8 L452.0,252.2 L454.7,252.1 L457.3,250.9 L460.0,249.7 L462.5,250.5 L465.0,250.0 L467.5,249.0 L470.0,247.9 L472.5,247.6 L475.0,247.5 L477.5,246.9 L480.0,246.8 L482.5,246.9 L485.0,247.1 L487.5,244.3 L490.0,245.2 L492.5,243.3 L495.0,243.0 L497.5,244.3 L500.0,243.2 L502.5,244.0 L505.0,242.6 L507.5,241.3 L510.0,242.2 L512.5,242.6 L515.0,243.4 L517.5,243.4 L520.0,241.9 L522.7,241.7 L525.3,240.7 L528.0,242.1 L530.7,240.8 L533.3,240.5 L536.0,240.0 L538.7,239.9 L541.3,241.6 L544.0,240.0 L546.3,241.1 L548.6,237.6 L550.9,238.6 L553.1,235.4 L555.4,234.0 L557.7,234.7 L560.0,232.3 L562.0,235.5 L564.0,235.8 L566.0,237.3 L568.0,241.1 L570.0,242.7 L572.0,245.0 L574.6,245.5 L577.1,244.6 L579.7,246.9 L582.3,248.0 L584.9,248.2 L587.4,250.3 L590.0,249.3 L592.3,252.7 L594.6,253.4 L596.9,253.0 L599.1,254.4 L601.4,257.6 L603.7,259.4 L606.0,258.9 L608.5,260.0 L611.1,261.7 L613.6,260.7 L616.2,263.2 L618.7,262.7 L621.3,262.1 L623.8,263.5 L626.4,264.6 L628.9,264.7 L631.5,265.9 L634.0,265.0 L636.0,268.8 L638.0,269.6 L640.0,272.4 L642.0,274.4 L644.0,275.8 L646.0,277.7 L648.0,280.8 L650.3,282.9 L652.7,284.1 L655.0,285.2 L657.3,286.1 L659.7,287.1 L662.0,291.3 L664.0,288.6 L666.0,286.9 L668.0,283.5 L670.0,282.3 L672.0,281.3 L674.0,278.9 L676.0,276.3 L678.5,274.2 L681.0,273.3 L683.5,273.3 L686.0,270.7 L688.5,270.3 L691.0,268.8 L693.5,268.4 L696.0,266.9 L697.8,267.2 L699.6,268.2 L701.3,270.7 L703.1,272.9 L704.9,275.1 L706.7,277.5 L708.4,279.5 L710.2,278.9 L712.0,282.9 L714.4,284.1 L716.8,285.4 L719.2,285.8 L721.6,286.2 L724.0,289.0 L726.5,288.5 L729.1,287.8 L731.6,288.1 L734.2,286.1 L736.7,285.0 L739.3,286.0 L741.8,286.3 L744.4,284.2 L746.9,285.4 L749.5,285.6 L752.0,283.2 L754.3,285.6 L756.7,287.2 L759.0,287.9 L761.3,288.5 L763.7,290.0 L766.0,292.7 L768.4,294.4 L770.8,295.1 L773.2,295.6 L775.6,299.3 L778.0,300.8 L779.8,297.5 L781.6,296.7 L783.3,295.8 L785.1,294.0 L786.9,291.2 L788.7,289.3 L790.4,287.8 L792.2,284.9 L794.0,283.1 L796.0,281.3 L798.0,280.9 L800.0,278.2 L802.0,276.9 L804.0,274.6 L806.0,273.1 L808.0,270.3 L810.0,268.2 L812.0,269.1 L814.0,265.5 L816.0,262.9 L818.3,263.1 L820.6,262.3 L822.9,259.2 L825.1,259.1 L827.4,257.1 L829.7,256.3 L832.0,253.6 L834.6,254.7 L837.1,258.4 L839.7,259.1 L842.3,259.0 L844.9,260.2 L847.4,260.3 L850.0,262.8 L852.5,261.9 L855.0,263.5 L857.5,263.0 L860.0,263.3 L862.5,263.8 L865.0,261.8 L867.5,261.2 L870.0,261.8 L872.5,261.8 L875.0,261.6 L877.5,261.6 L880.0,263.2 L882.5,264.1 L885.0,263.0 L887.5,264.5 L890.0,264.4 L892.5,262.0 L895.0,263.7 L897.5,263.1 L900.0,262.4 L902.5,264.9 L905.0,262.9 L907.5,263.9 L910.0,264.2 L912.5,265.2 L915.0,264.4 L917.5,263.6 L920.0,263.8 L922.5,264.5 L925.0,268.4 L927.5,269.9 L930.0,269.2 L932.5,268.6 L935.0,269.1 L937.5,269.3 L940.0,270.9 L942.5,270.8 L945.0,270.5 L947.5,268.1 L950.0,270.2 L952.5,269.9 L955.0,269.6 L957.5,270.5 L960.0,267.7 L962.7,267.4 L965.3,268.8 L968.0,268.8 L970.7,267.5 L973.3,265.9 L976.0,266.3 L978.3,268.1 L980.7,267.5 L983.0,269.5 L985.3,270.6 L987.7,271.5 L990.0,273.9 L992.7,272.3 L995.3,271.9 L998.0,270.9 L1000.7,271.9 L1003.3,269.2 L1006.0,270.7 L1008.4,270.0 L1010.8,270.5 L1013.2,274.4 L1015.6,273.1 L1018.0,276.5 L1020.4,277.2 L1022.8,278.3 L1025.2,276.7 L1027.6,278.8 L1030.0,278.5 L1032.5,281.8 L1035.0,281.8 L1037.5,281.2 L1040.0,280.8 L1042.5,280.6 L1045.0,282.8 L1047.5,281.7 L1050.0,282.5 L1052.5,279.7 L1055.0,279.2 L1057.5,277.7 L1060.0,279.6 L1062.5,278.1 L1065.0,275.5 L1067.5,277.8 L1070.0,274.3 L1072.5,274.1 L1075.0,272.1 L1077.5,271.8 L1080.0,273.6 L1082.5,271.7 L1085.0,271.4 L1087.5,273.5 L1090.0,273.1 L1092.0,277.7 L1094.0,275.5 L1096.0,281.5 L1098.0,278.7 L1100.0,284.5 L1102.0,285.1 L1104.0,284.6 L1106.6,285.7 L1109.2,284.5 L1111.8,284.2 L1114.4,283.7 L1117.0,284.3 L1119.6,287.2 L1122.2,287.1 L1124.8,286.5 L1127.4,282.2 L1130.0,283.0 L1132.0,283.9 L1134.0,277.8 L1136.0,279.1 L1138.4,277.8 L1140.8,281.9 L1143.2,278.1 L1145.6,282.7 L1148.0,281.2 L1150.4,281.1 L1152.8,281.2 L1155.2,286.0 L1157.6,285.3 L1160.0,284.5 L1162.5,286.7 L1165.0,290.0 L1167.5,287.7 L1170.0,290.3 L1172.5,289.3 L1175.0,290.5 L1177.5,294.3 L1180.0,295.0 L1182.5,293.6 L1185.0,294.0 L1187.5,295.1 L1190.0,298.5 L1192.5,297.2 L1195.0,295.4 L1197.5,294.4 L1200.0,295.5 L1202.5,295.2 L1205.0,294.9 L1207.5,293.1 L1210.0,290.6 L1212.5,290.0 L1215.0,293.1 L1217.5,291.6 L1220.0,293.0 L1222.5,290.0 L1225.0,293.4 L1227.5,291.3 L1230.0,293.6 L1232.5,293.7 L1235.0,292.0 L1237.5,289.8 L1240.0,293.8 L1242.5,292.1 L1245.0,294.2 L1247.5,291.7 L1250.0,291.6 L1252.5,294.7 L1255.0,292.9 L1257.5,292.3 L1260.0,293.4 L1262.5,294.7 L1265.0,292.3 L1267.5,294.8 L1270.0,294.8 L1272.5,295.3 L1275.0,293.8 L1277.5,296.7 L1280.0,297.4 L1282.5,298.0 L1285.0,296.0 L1287.5,298.0 L1290.0,297.0 L1292.5,299.0 L1295.0,296.4 L1297.5,300.2 L1300.0,300.9 L1302.5,299.4 L1305.0,299.8 L1307.5,300.3 L1310.0,300.7 L1312.5,298.8 L1315.0,303.2 L1317.5,300.5 L1320.0,300.7 L1322.5,300.7 L1325.0,301.6 L1327.5,304.3 L1330.0,301.4 L1332.5,302.0 L1335.0,304.8 L1337.5,303.1 L1340.0,302.7 L1342.5,305.4 L1345.0,305.6 L1347.5,305.8 L1350.0,306.8 L1352.5,304.7 L1355.0,308.2 L1357.5,307.9 L1360.0,305.5 L1362.5,306.1 L1365.0,308.0 L1367.5,308.3 L1370.0,307.8 L1372.5,307.5 L1375.0,309.0 L1377.5,308.2 L1380.0,310.4 L1382.5,311.7 L1385.0,309.1 L1387.5,311.0 L1390.0,312.0 L1392.5,309.9 L1395.0,312.8 L1397.5,313.4 L1400.0,311.6 L1402.5,312.1 L1405.0,314.2 L1407.6,313.4 L1410.1,313.4 L1412.6,315.9 L1415.1,315.7 L1417.6,314.5 L1420.1,314.6 L1422.7,315.4 L1425.2,316.2 L1427.7,318.6 L1430.2,318.4 L1432.7,319.2 L1435.3,319.3 L1437.8,319.9 L1440.3,317.5 L1442.8,319.6 L1445.3,321.6 L1447.9,321.9 L1450.4,320.0 L1452.9,321.1 L1455.4,322.2 L1457.9,321.8 L1460.4,322.8 L1463.0,321.7 L1465.5,323.3 L1468.0,324.0 L1470.1,323.8 L1472.3,325.5 L1474.4,329.5 L1476.5,330.2 L1478.7,332.1 L1480.8,332.4 L1482.9,334.3 L1485.1,335.9 L1487.2,337.2 L1489.3,335.9 L1491.5,339.1 L1493.6,339.3 L1495.7,341.9 L1497.9,342.0 L1500.0,344.1 L1502.5,345.5 L1505.1,344.7 L1507.6,343.8 L1510.2,344.8 L1512.7,344.7 L1515.3,346.4 L1517.8,344.6 L1520.4,344.9 L1522.9,346.1 L1525.5,344.7 L1528.0,346.3 L1530.0,349.2 L1532.0,349.6 L1534.0,350.7 L1536.0,353.1 L1538.0,355.1 L1540.0,355.7 L1542.0,357.5 L1544.0,359.3 L1546.0,361.6 L1548.0,363.7 L1549.6,361.0 L1551.2,358.4 L1552.8,355.6 L1554.4,354.5 L1556.0,353.0 L1558.6,352.3 L1561.1,352.2 L1563.7,352.5 L1566.3,351.1 L1568.9,352.6 L1571.4,351.9 L1574.0,352.1 L1576.6,352.3 L1579.1,351.9 L1581.7,351.4 L1584.3,351.2 L1586.9,351.2 L1589.4,352.0 L1592.0,351.6 L1594.5,352.8 L1597.1,351.6 L1599.6,353.1 L1602.1,355.2 L1604.6,353.8 L1607.2,355.3 L1609.7,355.7 L1612.2,355.6 L1614.7,358.2 L1617.3,356.6 L1619.8,358.6 L1622.3,357.3 L1624.8,357.5 L1627.4,360.5 L1629.9,359.7 L1632.4,359.1 L1634.9,360.6 L1637.5,361.3 L1640.0,362.7 L1642.5,361.2 L1645.0,362.0 L1647.5,364.6 L1650.0,364.4 L1652.5,363.0 L1655.0,364.0 L1657.5,364.5 L1660.0,365.9 L1662.5,366.1 L1665.0,367.2 L1667.5,367.5 L1670.0,367.1 L1672.5,368.1 L1675.0,368.6 L1677.5,369.0 L1680.0,368.6 L1682.5,369.9 L1685.0,370.1 L1687.5,371.2 L1690.0,369.2 L1692.5,371.9 L1695.0,369.7 L1697.5,372.4 L1700.0,372.3 L1702.5,372.2 L1705.0,373.9 L1707.5,373.0 L1710.0,372.8 L1712.5,374.1 L1715.0,374.6 L1717.5,374.1 L1720.0,373.6 L1722.5,373.6 L1725.0,373.4 L1727.5,373.9 L1730.0,372.4 L1732.5,372.4 L1735.0,372.7 L1737.5,371.9 L1740.0,371.5 L1742.5,372.6 L1745.0,372.5 L1747.5,371.2 L1750.0,370.8 L1752.5,369.8 L1755.0,369.9 L1757.5,369.2 L1760.0,370.2 L1762.5,370.0 L1765.0,368.3 L1767.5,370.5 L1770.0,368.5 L1772.5,369.8 L1775.0,369.5 L1777.5,369.6 L1780.0,367.1 L1782.5,367.1 L1785.1,368.0 L1787.6,364.6 L1790.1,364.1 L1792.6,365.0 L1795.2,364.2 L1797.7,364.8 L1800.2,363.8 L1802.7,362.4 L1805.3,363.2 L1807.8,361.1 L1810.3,360.5 L1812.8,360.3 L1815.4,358.8 L1817.9,358.1 L1820.4,358.2 L1822.9,356.8 L1825.5,358.0 L1828.0,356.5 L1830.4,355.2 L1832.7,353.0 L1835.1,352.9 L1837.5,352.1 L1839.8,351.6 L1842.2,350.8 L1844.5,350.8 L1846.9,350.1 L1849.3,347.8 L1851.6,346.7 L1854.0,346.4 L1856.4,346.6 L1858.7,343.7 L1861.1,343.4 L1863.5,343.3 L1865.8,340.5 L1868.2,340.0 L1870.5,341.1 L1872.9,339.7 L1875.3,337.9 L1877.6,335.7 L1880.0,337.2 L1882.3,335.5 L1884.6,334.8 L1886.9,334.2 L1889.2,332.9 L1891.5,330.4 L1893.8,328.5 L1896.2,327.8 L1898.5,327.4 L1900.8,326.3 L1903.1,324.3 L1905.4,323.2 L1907.7,323.5 L1910.0,322.3 L1912.3,320.5 L1914.6,321.3 L1916.9,319.2 L1919.2,316.3 L1921.5,316.3 L1923.8,316.4 L1926.2,313.9 L1928.5,314.0 L1930.8,310.8 L1933.1,310.6 L1935.4,311.2 L1937.7,309.3 L1940.0,308.5 L1942.5,306.3 L1945.0,306.5 L1947.5,305.9 L1950.0,304.3 L1952.5,304.7 L1955.0,303.6 L1957.5,304.2 L1960.0,302.2 L1962.5,301.0 L1965.0,299.4 L1967.5,298.7 L1970.0,299.8 L1972.5,297.1 L1975.0,296.3 L1977.5,295.8 L1980.0,296.1 L1982.5,296.8 L1985.0,296.0 L1987.5,296.4 L1990.0,294.0 L1992.5,293.7 L1995.0,295.8 L1997.5,294.3 L2000.0,295.3 L2002.5,294.1 L2005.0,293.3 L2007.5,293.5 L2010.0,292.8 L2012.5,295.0 L2015.0,293.9 L2017.5,293.0 L2020.0,293.2 L2022.5,292.8 L2025.0,291.7 L2027.5,294.0 L2030.0,292.9 L2032.5,293.9 L2035.0,292.2 L2037.5,292.5 L2040.0,291.2 L2042.5,290.8 L2045.0,293.5 L2047.5,293.4 L2050.0,291.9 L2052.5,293.8 L2055.0,293.7 L2057.5,292.3 L2060.0,293.3 L2062.5,294.5 L2065.0,293.2 L2067.5,294.7 L2070.0,292.7 L2072.5,293.3 L2075.0,294.4 L2077.5,293.0 L2080.0,293.4 L2082.5,295.3 L2085.0,294.2 L2087.5,295.3 L2090.0,293.7 L2092.5,293.6 L2095.0,294.3 L2097.5,293.9 L2100.0,296.4 L2102.5,294.5 L2105.0,295.4 L2107.5,294.2 L2110.0,295.6 L2112.5,295.3 L2115.0,295.5 L2117.5,294.6 L2120.0,294.9 L2122.6,297.1 L2125.1,295.7 L2127.7,295.5 L2130.2,295.4 L2132.8,295.8 L2135.4,295.7 L2137.9,295.2 L2140.5,297.1 L2143.0,296.2 L2145.6,295.8 L2148.2,297.5 L2150.7,295.7 L2153.3,296.3 L2155.8,298.1 L2158.4,296.1 L2161.0,297.1 L2163.5,298.4 L2166.1,298.4 L2168.6,296.5 L2171.2,297.2 L2173.8,298.3 L2176.3,297.4 L2178.9,299.2 L2181.4,297.0 L2184.0,298.0" fill="none" stroke="#800000" stroke-width="13" stroke-linejoin="round" stroke-linecap="round"/>
<path d="M166.0,1231.1 L167.5,1227.5 L169.0,1224.3 L170.5,1222.4 L172.0,1219.1 L172.5,1218.0 L173.1,1214.3 L173.6,1213.3 L174.2,1210.0 L174.7,1207.0 L175.3,1204.1 L175.8,1202.4 L176.4,1198.9 L176.9,1198.0 L177.5,1193.6 L178.0,1192.0 L178.7,1189.6 L179.5,1186.4 L180.2,1185.0 L180.9,1181.5 L181.6,1179.7 L182.4,1176.9 L183.1,1173.7 L183.8,1171.4 L184.5,1168.1 L185.3,1165.8 L186.0,1164.9 L186.8,1161.2 L187.6,1159.6 L188.4,1155.8 L189.2,1154.6 L190.0,1151.7 L190.8,1149.6 L191.6,1146.7 L192.4,1143.7 L193.2,1141.9 L194.0,1139.3 L194.7,1136.6 L195.3,1135.5 L196.0,1132.0 L196.7,1129.8 L197.3,1128.5 L198.0,1125.7 L198.7,1123.4 L199.3,1120.9 L200.0,1116.6 L200.7,1114.5 L201.3,1111.3 L202.0,1110.4 L202.8,1107.9 L203.7,1104.6 L204.5,1102.3 L205.3,1100.4 L206.2,1098.0 L207.0,1094.4 L207.8,1093.4 L208.7,1089.6 L209.5,1087.8 L210.3,1084.2 L211.2,1081.5 L212.0,1081.0 L213.0,1078.2 L214.0,1075.7 L215.0,1071.7 L216.0,1069.3 L217.0,1067.2 L218.0,1064.9 L219.0,1062.7 L220.0,1060.5 L221.0,1057.3 L222.0,1055.5 L222.6,1053.8 L223.2,1050.2 L223.9,1049.3 L224.5,1046.2 L225.1,1044.0 L225.8,1040.4 L226.4,1038.3 L227.0,1036.5 L227.6,1033.1 L228.2,1029.8 L228.9,1029.3 L229.5,1026.7 L230.1,1023.0 L230.8,1019.9 L231.4,1019.4 L232.0,1016.3 L232.7,1012.3 L233.4,1010.2 L234.1,1007.3 L234.9,1006.4 L235.6,1002.4 L236.3,1001.6 L237.0,998.6 L237.7,994.4 L238.4,993.3 L239.1,990.0 L239.9,988.3 L240.6,986.0 L241.3,982.0 L242.0,979.0 L242.7,978.6 L243.3,974.8 L244.0,973.6 L244.7,970.5 L245.3,968.1 L246.0,965.8 L246.7,962.8 L247.3,959.9 L248.0,956.4 L248.7,955.5 L249.3,952.3 L250.0,950.0 L250.7,948.7 L251.4,944.2 L252.1,943.4 L252.9,939.1 L253.6,938.4 L254.3,936.2 L255.0,932.4 L255.7,930.7 L256.4,929.3 L257.1,926.1 L257.9,923.4 L258.6,920.2 L259.3,917.3 L260.0,915.6 L260.7,913.2 L261.4,910.1 L262.1,907.8 L262.9,904.8 L263.6,903.7 L264.3,901.0 L265.0,897.3 L265.7,894.8 L266.4,892.9 L267.1,890.1 L267.9,888.8 L268.6,884.8 L269.3,882.1 L270.0,881.0 L270.4,876.5 L270.7,875.1 L271.1,871.9 L271.5,870.6 L271.8,867.4 L272.2,865.4 L272.5,861.3 L272.9,860.1 L273.3,857.3 L273.6,854.4 L274.0,852.7 L274.8,850.3 L275.5,846.0 L276.2,844.0 L277.0,841.6 L277.8,838.7 L278.5,835.9 L279.2,833.9 L280.0,831.2 L280.8,829.9 L281.6,826.7 L282.4,823.2 L283.2,821.1 L284.0,818.9 L284.8,816.0 L285.6,812.9 L286.4,810.1 L287.2,807.3 L288.0,807.3 L288.8,804.0 L289.6,799.7 L290.4,798.8 L291.2,796.8 L292.0,793.2 L292.8,789.4 L293.6,787.8 L294.4,785.0 L295.2,781.8 L296.0,780.1 L296.5,776.2 L297.0,776.1 L297.5,772.9 L298.0,770.3 L298.5,768.6 L299.0,765.4 L299.5,761.9 L300.0,759.3 L300.5,756.6 L301.0,753.8 L301.5,753.2 L302.0,750.9 L302.5,747.0 L303.0,744.2 L303.5,742.9 L304.0,740.9 L304.5,738.6 L305.0,734.1 L305.5,733.2 L306.0,730.9 L306.5,728.1 L307.0,724.5 L307.5,721.7 L308.0,720.8 L308.7,717.0 L309.3,714.7 L310.0,712.6 L310.7,709.7 L311.3,708.4 L312.0,704.3 L312.7,701.3 L313.3,700.2 L314.0,697.8 L314.7,695.8 L315.3,693.0 L316.0,691.1 L316.4,688.6 L316.8,684.8 L317.2,682.2 L317.6,678.7 L318.0,676.5 L318.4,674.6 L318.8,670.7 L319.2,669.7 L319.6,665.7 L320.0,663.9 L320.8,662.8 L321.6,658.1 L322.4,655.6 L323.2,654.2 L324.0,651.2 L325.5,650.6 L327.0,646.7 L328.5,646.9 L330.0,644.9 L331.5,642.8 L333.0,639.8 L334.5,637.4 L336.0,636.4 L336.9,633.6 L337.7,630.9 L338.6,628.3 L339.4,626.1 L340.3,624.3 L341.1,622.3 L342.0,620.1 L343.5,616.1 L345.0,614.5 L346.5,612.8 L348.0,611.2 L350.0,608.6 L352.0,606.2 L354.0,603.9 L356.0,602.5 L358.0,601.3 L360.0,601.1 L362.0,599.3 L364.0,597.6 L366.0,596.3 L367.2,594.0 L368.4,590.9 L369.6,589.2 L370.8,585.0 L372.0,584.5 L372.3,581.6 L372.7,578.1 L373.0,576.2 L373.3,574.6 L373.7,570.6 L374.0,568.4 L374.3,564.8 L374.7,562.2 L375.0,561.0 L375.3,556.1 L375.7,553.8 L376.0,552.5 L376.0,549.2 L376.0,545.5 L376.0,544.4 L376.0,541.0 L376.0,538.9 L376.0,535.8 L376.3,533.4 L376.7,530.8 L377.0,527.7 L377.3,524.3 L377.7,521.8 L378.0,521.1 L378.7,517.5 L379.3,513.6 L380.0,513.0 L380.7,508.7 L381.3,505.6 L382.0,504.1 L383.9,501.3 L385.7,500.0 L387.6,498.1 L389.4,495.3 L391.3,494.2 L393.1,490.9 L395.0,490.0 L397.0,491.9 L399.0,492.2 L401.0,494.7 L403.0,495.5 L405.0,498.2 L407.0,501.0 L408.1,502.4 L409.3,505.2 L410.4,507.6 L411.6,508.1 L412.7,512.8 L413.9,514.3 L415.0,514.9 L415.6,519.4 L416.2,520.7 L416.9,522.6 L417.5,527.3 L418.1,528.7 L418.8,531.8 L419.4,532.5 L420.0,536.8 L421.5,536.8 L423.0,539.3 L424.5,541.6 L426.0,542.7 L427.5,546.3 L429.0,547.2 L430.5,549.4 L432.0,552.6 L432.7,554.2 L433.3,558.0 L434.0,559.7 L434.7,562.8 L435.3,564.4 L436.0,567.8 L436.7,570.1 L437.3,570.6 L438.0,574.7 L439.1,571.0 L440.3,569.6 L441.4,566.8 L442.6,564.6 L443.7,560.1 L444.9,558.2 L446.0,556.7 L447.3,554.9 L448.7,552.0 L450.0,547.7 L451.3,547.0 L452.7,543.2 L454.0,542.1 L455.1,545.4 L456.3,546.1 L457.4,550.9 L458.6,552.8 L459.7,554.2 L460.9,556.6 L462.0,559.8 L462.8,563.4 L463.6,565.0 L464.4,566.1 L465.2,568.2 L466.0,570.9 L466.8,575.3 L467.6,575.9 L468.4,579.4 L469.2,581.0 L470.0,584.5 L470.8,581.3 L471.6,578.2 L472.4,577.9 L473.2,574.5 L474.0,572.5 L474.8,570.5 L475.6,568.5 L476.4,563.4 L477.2,562.0 L478.0,559.0 L479.0,557.7 L480.0,556.4 L481.0,553.9 L482.0,549.3 L483.0,547.4 L484.0,546.9 L484.4,543.9 L484.8,540.5 L485.2,538.1 L485.6,534.6 L486.0,534.0 L486.4,530.1 L486.8,528.9 L487.2,525.5 L487.6,521.4 L488.0,519.5 L490.4,517.6 L492.8,517.9 L495.2,515.5 L497.6,512.3 L500.0,511.0 L502.4,510.8 L504.8,510.3 L507.2,509.8 L509.6,508.5 L512.0,507.6 L514.4,507.8 L516.8,510.6 L519.2,511.1 L521.6,511.4 L524.0,513.9 L526.3,516.9 L528.6,515.5 L530.9,517.2 L533.1,520.2 L535.4,520.5 L537.7,521.9 L540.0,524.0 L542.0,525.0 L544.0,527.5 L546.0,529.1 L548.0,532.0 L550.0,533.8 L552.0,532.6 L553.6,536.6 L555.2,539.6 L556.8,542.3 L558.4,544.4 L560.0,546.4 L562.0,548.1 L564.0,548.9 L566.0,550.3 L568.0,553.5 L570.0,555.4 L572.0,557.3 L574.0,555.0 L576.0,552.4 L578.0,552.3 L580.0,550.7 L582.0,548.5 L584.0,547.4 L586.0,545.1 L588.0,544.2 L589.8,545.5 L591.6,546.3 L593.4,548.9 L595.2,550.7 L597.0,554.5 L598.8,554.7 L600.6,556.2 L602.4,557.6 L604.2,559.4 L606.0,561.5 L607.6,562.9 L609.1,564.5 L610.7,569.1 L612.2,569.9 L613.8,571.8 L615.3,574.2 L616.9,575.4 L618.4,577.0 L620.0,578.7 L621.2,581.6 L622.4,583.8 L623.6,587.3 L624.8,589.0 L626.0,592.3 L627.2,592.7 L628.4,596.7 L629.6,597.9 L630.8,598.5 L632.0,601.0 L633.3,604.5 L634.7,607.9 L636.0,608.2 L637.3,611.7 L638.7,612.9 L640.0,616.5 L641.3,616.2 L642.7,619.7 L644.0,623.2 L646.4,622.9 L648.8,624.4 L651.2,625.3 L653.6,627.4 L656.0,629.3 L658.4,629.4 L660.8,626.7 L663.2,626.1 L665.6,624.3 L668.0,624.3 L668.9,622.7 L669.7,619.6 L670.6,615.8 L671.4,615.0 L672.3,613.3 L673.1,609.7 L674.0,605.7 L674.9,605.5 L675.7,603.3 L676.6,599.2 L677.4,596.1 L678.3,593.9 L679.1,592.5 L680.0,591.2 L681.8,588.6 L683.6,587.7 L685.4,583.7 L687.2,582.3 L689.0,581.8 L690.8,579.7 L692.6,577.1 L694.4,576.2 L696.2,573.3 L698.0,570.6 L700.0,573.5 L702.0,574.1 L704.0,577.7 L706.0,578.5 L708.0,580.7 L710.0,582.8 L712.0,583.5 L714.0,585.9 L716.0,586.0 L718.0,590.6 L720.0,591.0 L722.0,594.0 L724.0,592.6 L726.0,596.0 L728.0,597.9 L730.0,598.3 L732.0,599.1 L734.0,600.9 L735.6,603.0 L737.2,607.3 L738.8,607.3 L740.4,611.8 L742.0,612.8 L743.6,615.3 L745.2,617.7 L746.8,619.8 L748.4,622.3 L750.0,624.3 L751.6,625.7 L753.1,629.2 L754.7,629.9 L756.2,633.6 L757.8,636.0 L759.3,638.2 L760.9,638.9 L762.4,642.7 L764.0,645.6 L765.7,645.8 L767.4,647.3 L769.1,650.1 L770.9,653.4 L772.6,652.8 L774.3,654.4 L776.0,657.9 L777.7,656.5 L779.4,654.9 L781.1,651.5 L782.9,651.6 L784.6,647.1 L786.3,646.8 L788.0,642.6 L789.5,640.4 L791.0,638.8 L792.5,636.5 L794.0,636.0 L795.5,634.2 L797.0,630.9 L798.5,631.5 L800.0,627.6 L801.5,624.6 L803.0,622.4 L804.5,622.0 L806.0,620.4 L807.5,615.6 L809.0,612.9 L810.5,613.2 L812.0,609.1 L814.5,612.6 L817.0,612.0 L819.5,613.5 L822.0,613.5 L824.0,616.6 L826.0,617.1 L828.0,618.2 L830.0,621.8 L832.0,620.7 L833.7,620.5 L835.3,615.9 L837.0,615.5 L838.7,612.3 L840.3,611.6 L842.0,606.5 L843.7,605.9 L845.3,603.0 L847.0,602.4 L848.7,600.2 L850.3,596.8 L852.0,593.1 L854.2,594.4 L856.5,595.7 L858.8,597.5 L861.0,598.1 L863.2,599.2 L865.5,602.4 L867.8,603.2 L870.0,603.3 L872.5,606.7 L875.0,605.0 L877.5,607.2 L880.0,606.8 L882.5,610.2 L885.0,611.3 L887.5,610.2 L890.0,612.9 L892.5,613.8 L895.0,612.6 L897.5,613.4 L900.0,614.6 L902.5,616.7 L905.0,614.8 L907.5,617.3 L910.0,617.7 L912.5,617.8 L915.0,618.9 L917.5,620.7 L920.0,619.0 L922.5,622.0 L925.0,620.8 L927.5,623.0 L930.0,623.9 L932.5,622.2 L935.0,625.3 L937.5,626.4 L940.0,624.6 L942.5,624.3 L945.0,625.3 L947.5,629.0 L950.0,626.3 L952.5,629.6 L955.0,627.1 L957.5,629.3 L960.0,627.2 L962.5,627.7 L965.0,629.6 L967.5,627.7 L970.0,628.8 L972.5,631.0 L975.0,630.4 L977.5,631.2 L980.0,631.7 L982.2,629.9 L984.4,632.2 L986.7,635.7 L988.9,636.9 L991.1,636.1 L993.3,639.4 L995.6,639.9 L997.8,642.2 L1000.0,642.6 L1002.0,643.9 L1004.0,649.0 L1006.0,648.2 L1008.0,651.9 L1010.0,650.7 L1012.0,653.7 L1014.0,654.0 L1016.0,656.7 L1018.0,657.5 L1020.0,660.9 L1022.0,660.6 L1024.0,664.4 L1026.0,665.1 L1028.0,665.3 L1030.0,667.8 L1032.0,670.0 L1035.0,671.0 L1038.0,668.4 L1041.0,667.4 L1044.0,669.7 L1045.6,667.4 L1047.1,664.9 L1048.7,661.2 L1050.3,658.8 L1051.9,657.1 L1053.4,654.4 L1055.0,652.3 L1056.6,652.0 L1058.1,649.7 L1059.7,648.2 L1061.3,645.5 L1062.9,642.2 L1064.4,642.7 L1066.0,640.6 L1068.7,639.9 L1071.3,639.7 L1074.0,640.1 L1076.7,641.0 L1079.3,640.3 L1082.0,639.5 L1084.7,638.1 L1087.3,637.5 L1090.0,637.7 L1092.0,641.8 L1094.0,641.6 L1096.0,643.6 L1098.0,645.7 L1100.0,646.6 L1102.5,650.4 L1105.0,647.1 L1107.5,649.9 L1110.0,651.7 L1112.5,649.5 L1115.0,651.4 L1117.5,651.0 L1120.0,651.0 L1122.5,651.8 L1125.0,652.5 L1127.5,656.4 L1130.0,657.1 L1132.5,658.6 L1135.0,656.2 L1137.5,659.8 L1140.0,659.3 L1143.0,660.6 L1146.0,660.2 L1149.0,659.3 L1152.0,661.9 L1154.0,659.5 L1156.0,664.1 L1158.0,666.1 L1160.0,666.3 L1162.0,668.2 L1164.0,671.3 L1166.0,669.8 L1168.0,673.0 L1170.0,675.0 L1172.5,674.5 L1175.0,676.9 L1177.5,676.6 L1180.0,678.1 L1182.5,679.5 L1185.0,680.7 L1187.5,680.3 L1190.0,682.5 L1192.5,682.2 L1195.0,680.9 L1197.5,682.5 L1200.0,681.0 L1202.5,683.7 L1205.0,681.9 L1207.5,682.9 L1210.0,682.1 L1212.5,681.9 L1215.0,680.8 L1217.5,680.5 L1220.0,683.8 L1222.5,682.1 L1225.0,682.1 L1227.5,682.1 L1230.0,683.3 L1232.5,681.6 L1235.0,681.9 L1237.5,685.4 L1240.0,684.5 L1242.5,685.9 L1245.0,687.4 L1247.5,688.4 L1250.0,688.9 L1252.5,686.0 L1255.0,688.2 L1257.5,690.8 L1260.0,691.4 L1262.5,688.9 L1265.0,689.5 L1267.5,690.4 L1270.0,690.3 L1272.5,691.9 L1275.0,694.3 L1277.5,693.6 L1280.0,693.8 L1282.5,692.7 L1285.0,694.5 L1287.5,697.7 L1290.0,696.9 L1292.5,696.3 L1295.0,696.9 L1297.5,698.8 L1300.0,699.1 L1302.5,696.9 L1305.0,699.8 L1307.5,698.9 L1310.0,700.1 L1312.5,699.3 L1315.0,700.4 L1317.5,700.8 L1320.0,701.5 L1322.5,700.5 L1325.0,702.0 L1327.5,704.3 L1330.0,702.7 L1332.5,703.9 L1335.0,707.0 L1337.5,705.6 L1340.0,706.5 L1342.5,706.8 L1345.0,710.2 L1347.5,707.5 L1350.0,710.6 L1352.5,712.5 L1355.0,710.3 L1357.5,712.1 L1360.0,714.7 L1362.5,714.7 L1365.0,714.4 L1367.5,713.7 L1370.0,716.4 L1372.5,716.9 L1375.0,719.3 L1377.5,718.2 L1380.0,719.6 L1382.5,721.4 L1385.0,723.0 L1387.5,721.6 L1390.0,722.5 L1392.5,724.1 L1395.0,726.5 L1397.5,723.8 L1400.0,728.2 L1402.5,727.8 L1405.0,726.9 L1407.5,729.0 L1410.0,728.2 L1412.5,727.7 L1415.0,731.7 L1417.5,730.7 L1420.0,732.1 L1422.4,732.9 L1424.7,735.7 L1427.1,736.0 L1429.5,733.4 L1431.8,737.0 L1434.2,737.3 L1436.5,738.2 L1438.9,740.9 L1441.3,739.8 L1443.6,741.0 L1446.0,743.9 L1448.4,742.6 L1450.7,743.8 L1453.1,744.8 L1455.5,747.2 L1457.8,747.4 L1460.2,748.6 L1462.5,747.9 L1464.9,747.0 L1467.3,751.1 L1469.6,751.4 L1472.0,753.3 L1474.1,754.7 L1476.2,752.9 L1478.3,754.7 L1480.4,755.4 L1482.5,760.4 L1484.6,758.2 L1486.7,759.5 L1488.8,764.2 L1490.9,764.6 L1493.1,763.5 L1495.2,768.0 L1497.3,769.5 L1499.4,769.7 L1501.5,768.9 L1503.6,773.5 L1505.7,773.5 L1507.8,775.7 L1509.9,779.1 L1512.0,779.6 L1514.5,779.3 L1517.1,775.1 L1519.6,775.5 L1522.2,775.9 L1524.7,772.8 L1527.3,777.2 L1529.8,773.1 L1532.4,772.4 L1534.9,772.2 L1537.5,771.3 L1540.0,773.8 L1542.5,772.4 L1545.0,772.3 L1547.5,772.0 L1550.0,770.3 L1552.5,771.6 L1555.0,774.6 L1557.5,774.4 L1560.0,774.8 L1562.5,771.9 L1565.0,771.8 L1567.5,771.1 L1570.0,773.7 L1572.5,773.0 L1575.0,773.6 L1577.5,773.8 L1580.0,774.4 L1582.4,771.7 L1584.8,772.3 L1587.2,767.7 L1589.6,769.7 L1592.0,766.3 L1594.5,763.9 L1597.1,765.3 L1599.6,766.5 L1602.1,766.0 L1604.6,766.9 L1607.2,765.7 L1609.7,765.6 L1612.2,768.3 L1614.7,765.9 L1617.3,768.1 L1619.8,768.7 L1622.3,767.7 L1624.8,767.1 L1627.4,769.6 L1629.9,767.3 L1632.4,769.6 L1634.9,765.6 L1637.5,767.6 L1640.0,768.7 L1642.6,765.7 L1645.1,769.8 L1647.7,765.9 L1650.2,768.5 L1652.8,766.4 L1655.4,770.1 L1657.9,768.3 L1660.5,769.5 L1663.0,768.0 L1665.6,768.9 L1668.2,768.9 L1670.7,767.0 L1673.3,766.6 L1675.8,769.7 L1678.4,766.2 L1681.0,770.1 L1683.5,766.5 L1686.1,766.0 L1688.6,766.0 L1691.2,769.4 L1693.8,770.3 L1696.3,767.6 L1698.9,768.8 L1701.4,766.8 L1704.0,770.0 L1706.4,767.9 L1708.8,764.1 L1711.2,762.6 L1713.6,764.7 L1716.0,760.4 L1718.4,763.3 L1720.8,759.5 L1723.2,758.1 L1725.6,758.8 L1728.0,756.4 L1730.4,756.6 L1732.8,753.5 L1735.2,756.2 L1737.6,752.2 L1740.0,753.7 L1742.4,749.5 L1744.8,751.9 L1747.2,752.0 L1749.6,748.3 L1752.0,745.7 L1754.4,746.6 L1756.8,747.1 L1759.2,744.2 L1761.6,745.0 L1764.0,742.0 L1766.4,743.0 L1768.8,743.5 L1771.2,741.3 L1773.6,741.7 L1776.0,738.1 L1778.4,740.8 L1780.8,736.6 L1783.2,739.6 L1785.6,739.2 L1788.0,738.1 L1790.5,735.5 L1793.0,733.7 L1795.4,733.3 L1797.9,734.5 L1800.4,732.7 L1802.9,734.0 L1805.3,729.4 L1807.8,730.6 L1810.3,731.7 L1812.8,729.8 L1815.2,728.9 L1817.7,726.1 L1820.2,725.6 L1822.7,725.6 L1825.1,727.8 L1827.6,726.9 L1830.1,723.4 L1832.6,726.0 L1835.0,721.2 L1837.5,723.1 L1840.0,724.2 L1842.3,720.0 L1844.6,721.5 L1846.9,718.9 L1849.1,714.8 L1851.4,714.8 L1853.7,714.1 L1856.0,711.8 L1858.3,712.8 L1860.6,709.0 L1862.9,710.5 L1865.1,706.9 L1867.4,704.6 L1869.7,705.6 L1872.0,702.2 L1874.2,703.0 L1876.4,702.8 L1878.5,700.6 L1880.7,698.7 L1882.9,695.5 L1885.1,696.4 L1887.3,693.3 L1889.5,694.5 L1891.6,690.9 L1893.8,691.6 L1896.0,689.3 L1898.2,688.2 L1900.4,688.2 L1902.5,684.7 L1904.7,683.4 L1906.9,685.6 L1909.1,681.6 L1911.3,682.6 L1913.5,681.5 L1915.6,678.5 L1917.8,675.7 L1920.0,674.2 L1922.0,676.2 L1924.0,671.3 L1926.0,671.5 L1928.0,670.2 L1930.0,666.8 L1932.0,666.9 L1934.0,664.0 L1936.0,664.2 L1938.0,662.5 L1940.0,660.4 L1942.0,658.2 L1944.0,657.6 L1946.0,655.2 L1948.0,653.4 L1950.0,652.4 L1952.0,653.6 L1954.5,651.3 L1957.1,652.2 L1959.6,647.7 L1962.2,651.0 L1964.7,648.3 L1967.3,648.9 L1969.8,647.2 L1972.4,647.0 L1974.9,644.3 L1977.5,645.8 L1980.0,642.5 L1982.5,643.8 L1985.0,643.5 L1987.5,645.8 L1990.0,647.1 L1992.5,646.9 L1995.0,650.1 L1997.5,647.5 L2000.0,650.3 L2002.5,649.6 L2005.0,651.9 L2007.5,653.4 L2010.0,653.9 L2012.5,651.9 L2015.0,653.5 L2017.5,655.7 L2020.0,658.0 L2022.5,654.6 L2025.0,657.5 L2027.5,658.3 L2030.0,659.3 L2032.5,657.9 L2035.0,660.3 L2037.5,659.3 L2040.0,661.7 L2042.5,658.5 L2045.0,662.8 L2047.5,661.1 L2050.0,661.6 L2052.5,660.8 L2055.0,662.0 L2057.5,664.4 L2060.0,664.7 L2062.5,663.1 L2065.0,664.4 L2067.5,664.1 L2070.0,664.8 L2072.5,665.4 L2075.0,666.3 L2077.5,669.4 L2080.0,670.0 L2082.5,669.4 L2085.1,668.4 L2087.6,668.7 L2090.1,670.1 L2092.7,670.8 L2095.2,670.4 L2097.8,670.2 L2100.3,668.8 L2102.8,670.7 L2105.4,671.8 L2107.9,671.8 L2110.4,669.4 L2113.0,672.0 L2115.5,670.8 L2118.0,670.4 L2120.6,673.7 L2123.1,672.8 L2125.7,673.3 L2128.2,671.3 L2130.7,674.1 L2133.3,674.8 L2135.8,674.9 L2138.3,674.5 L2140.9,675.1 L2143.4,675.2 L2146.0,674.7 L2148.5,674.3 L2151.0,676.0 L2153.6,676.1 L2156.1,676.7 L2158.6,674.8 L2161.2,677.5 L2163.7,676.2 L2166.2,677.9 L2168.8,675.1 L2171.3,678.5 L2173.9,678.1 L2176.4,676.4 L2178.9,678.7 L2181.5,676.8 L2184.0,678.0" fill="none" stroke="#008000" stroke-width="13" stroke-linejoin="round" stroke-linecap="round"/>
<path d="M166.0,1179.3 L166.8,1177.4 L167.5,1174.4 L168.2,1172.5 L169.0,1171.0 L169.8,1167.9 L170.5,1165.5 L171.2,1162.2 L172.0,1160.7 L172.8,1158.3 L173.6,1155.6 L174.4,1153.9 L175.2,1151.2 L176.0,1147.8 L176.8,1144.6 L177.6,1143.6 L178.4,1141.6 L179.2,1138.0 L180.0,1136.2 L180.8,1134.2 L181.6,1131.5 L182.4,1127.0 L183.2,1125.6 L184.0,1121.8 L184.8,1119.5 L185.6,1118.6 L186.4,1115.0 L187.2,1112.9 L188.0,1109.9 L188.5,1107.1 L189.0,1104.3 L189.5,1102.1 L190.0,1100.8 L190.5,1097.8 L191.0,1094.5 L191.5,1091.5 L192.0,1089.4 L192.5,1088.0 L193.0,1084.9 L193.5,1082.9 L194.0,1080.8 L194.6,1076.6 L195.2,1075.4 L195.9,1071.4 L196.5,1070.8 L197.1,1066.7 L197.8,1064.4 L198.4,1063.6 L199.0,1059.7 L199.6,1056.8 L200.2,1056.0 L200.9,1052.8 L201.5,1051.0 L202.1,1047.2 L202.8,1045.0 L203.4,1043.6 L204.0,1040.0 L204.8,1038.7 L205.5,1034.2 L206.2,1033.3 L207.0,1029.2 L207.8,1027.6 L208.5,1023.8 L209.2,1021.7 L210.0,1021.1 L210.8,1017.4 L211.5,1015.8 L212.2,1011.9 L213.0,1009.6 L213.8,1006.5 L214.5,1005.1 L215.2,1003.4 L216.0,1000.0 L216.8,997.2 L217.5,996.1 L218.2,993.5 L219.0,990.4 L219.8,986.4 L220.5,985.3 L221.2,982.4 L222.0,981.1 L222.8,977.2 L223.5,975.4 L224.2,972.8 L225.0,969.7 L225.8,967.6 L226.5,965.4 L227.2,963.5 L228.0,960.0 L228.8,957.2 L229.5,956.2 L230.2,951.4 L231.0,950.8 L231.8,948.0 L232.5,945.1 L233.2,942.4 L234.0,940.6 L234.8,938.5 L235.5,935.6 L236.2,933.1 L237.0,928.8 L237.8,927.1 L238.5,924.1 L239.2,923.6 L240.0,921.0 L240.5,916.6 L241.0,915.2 L241.5,912.7 L242.0,908.9 L242.5,907.2 L243.0,905.6 L243.5,902.9 L244.0,899.4 L244.5,898.2 L245.0,894.5 L245.5,892.6 L246.0,889.8 L246.5,888.7 L247.0,885.4 L247.5,883.3 L248.0,880.4 L248.5,877.2 L249.0,876.2 L249.5,873.0 L250.0,870.5 L250.5,866.9 L251.0,864.1 L251.5,862.7 L252.0,860.8 L252.7,858.1 L253.3,854.3 L254.0,851.1 L254.7,849.4 L255.3,847.6 L256.0,843.1 L256.7,841.9 L257.3,837.8 L258.0,835.5 L258.8,832.4 L259.5,830.5 L260.2,828.2 L261.0,827.2 L261.8,824.7 L262.5,820.2 L263.2,818.0 L264.0,817.1 L264.8,812.6 L265.6,810.3 L266.4,808.0 L267.2,804.6 L268.0,802.4 L268.8,800.1 L269.6,797.5 L270.4,796.4 L271.2,792.0 L272.0,789.2 L272.7,788.5 L273.3,784.9 L274.0,783.4 L274.7,780.4 L275.3,778.2 L276.0,774.5 L276.7,771.6 L277.3,770.7 L278.0,767.4 L278.7,765.2 L279.3,762.9 L280.0,760.6 L280.6,757.0 L281.2,754.7 L281.8,753.7 L282.5,750.2 L283.1,747.1 L283.7,745.6 L284.3,742.1 L284.9,741.0 L285.5,736.7 L286.2,736.2 L286.8,733.1 L287.4,730.1 L288.0,729.1 L288.5,724.8 L289.1,722.2 L289.6,719.3 L290.2,717.9 L290.7,715.9 L291.3,713.2 L291.8,710.0 L292.4,708.4 L292.9,704.1 L293.5,702.0 L294.0,700.4 L294.5,698.7 L295.0,695.3 L295.5,693.0 L296.0,690.7 L296.5,687.2 L297.0,686.1 L297.5,683.1 L298.0,679.6 L298.5,677.2 L299.0,675.8 L299.5,672.1 L300.0,669.2 L300.7,668.3 L301.3,664.7 L302.0,662.1 L302.7,659.8 L303.3,657.7 L304.0,653.0 L304.7,650.9 L305.3,647.5 L306.0,645.8 L306.3,643.4 L306.7,641.8 L307.0,638.7 L307.3,635.9 L307.7,632.8 L308.0,630.7 L308.3,627.3 L308.7,626.2 L309.0,623.5 L309.3,621.1 L309.7,616.7 L310.0,615.4 L310.3,613.2 L310.7,610.0 L311.0,608.5 L311.3,606.0 L311.7,603.1 L312.0,600.8 L312.5,597.7 L313.0,595.7 L313.5,591.0 L314.0,589.9 L314.5,587.2 L315.0,584.3 L315.8,580.4 L316.5,576.9 L317.2,575.3 L318.0,572.9 L318.0,568.4 L318.0,565.2 L318.0,562.3 L318.0,558.9 L319.8,558.0 L321.5,556.2 L323.2,553.3 L325.0,549.6 L327.2,548.5 L329.4,544.9 L331.6,544.9 L333.8,541.5 L336.0,538.7 L338.0,538.3 L340.0,535.0 L342.0,533.4 L344.0,530.8 L346.0,529.9 L348.0,528.1 L350.0,526.8 L352.0,522.8 L352.3,522.2 L352.7,517.6 L353.0,515.3 L354.9,514.5 L356.8,511.8 L358.6,509.9 L360.5,508.7 L362.4,505.9 L364.2,505.5 L366.1,502.1 L368.0,501.9 L369.5,499.6 L371.0,496.6 L372.5,493.0 L374.0,492.8 L374.4,488.1 L374.9,486.7 L375.3,483.8 L375.8,480.1 L376.2,479.0 L376.7,476.6 L377.1,473.6 L377.6,470.4 L378.0,468.0 L378.6,465.7 L379.1,462.1 L379.7,461.3 L380.3,459.1 L380.9,456.0 L381.4,453.8 L382.0,449.5 L382.5,448.8 L383.0,443.8 L383.5,442.4 L384.0,439.0 L385.7,437.9 L387.3,436.5 L389.0,434.6 L390.7,431.9 L392.3,429.6 L394.0,427.2 L396.0,429.4 L398.0,430.7 L400.0,432.2 L402.0,435.3 L404.0,436.4 L406.0,437.8 L407.6,439.2 L409.2,442.6 L410.8,443.2 L412.4,445.4 L414.0,448.2 L415.2,451.0 L416.4,454.1 L417.6,455.9 L418.8,458.8 L420.0,461.2 L421.0,463.0 L422.0,465.4 L423.0,465.9 L424.0,468.7 L425.0,470.5 L426.0,475.3 L427.0,477.2 L428.0,479.4 L429.0,480.7 L430.0,483.3 L431.0,485.2 L432.0,488.9 L433.0,492.2 L434.0,492.7 L435.0,494.4 L436.0,497.1 L437.6,495.6 L439.2,495.1 L440.8,492.9 L442.4,489.9 L444.0,486.9 L445.2,484.4 L446.5,482.0 L447.8,481.3 L449.0,477.9 L450.2,476.9 L451.5,474.2 L452.8,471.3 L454.0,467.9 L456.0,470.9 L458.0,470.9 L460.0,472.9 L460.5,476.7 L461.0,479.0 L461.5,480.7 L462.0,483.3 L462.5,485.1 L463.0,490.2 L463.5,492.1 L464.0,495.3 L464.6,497.9 L465.1,499.0 L465.7,502.4 L466.3,504.0 L466.9,507.7 L467.4,510.4 L468.0,511.0 L469.6,508.6 L471.2,507.2 L472.8,506.2 L474.4,503.7 L476.0,500.6 L476.5,500.2 L477.0,497.3 L477.5,493.6 L478.0,489.7 L478.5,489.4 L479.0,485.6 L479.5,481.5 L480.0,479.5 L480.6,477.8 L481.2,475.9 L481.8,472.2 L482.4,470.0 L483.0,466.2 L483.6,463.7 L484.2,463.0 L484.8,458.9 L485.4,455.5 L486.0,454.3 L489.0,450.9 L492.0,449.1 L494.8,449.9 L497.6,450.2 L500.4,450.4 L503.2,450.6 L506.0,449.8 L507.5,446.7 L509.0,446.7 L510.5,442.7 L512.0,441.9 L513.5,439.7 L515.0,438.5 L516.5,436.6 L518.0,433.2 L520.0,432.9 L522.0,431.6 L524.0,429.4 L526.0,427.0 L528.8,430.0 L531.6,429.9 L534.4,429.1 L537.2,430.4 L540.0,433.4 L542.4,432.8 L544.8,434.9 L547.2,437.7 L549.6,439.4 L552.0,440.4 L554.4,442.3 L556.8,441.8 L559.2,443.6 L561.6,447.8 L564.0,448.9 L566.7,446.5 L569.3,446.3 L572.0,446.7 L574.7,448.6 L577.3,446.3 L580.0,447.5 L582.5,447.5 L585.0,445.9 L587.5,446.0 L590.0,443.3 L592.0,444.6 L594.0,445.7 L596.0,449.6 L598.0,449.2 L600.0,453.4 L602.0,454.2 L604.0,454.3 L606.0,457.7 L608.0,457.4 L610.0,460.0 L611.6,461.0 L613.1,465.3 L614.7,467.9 L616.2,470.2 L617.8,469.6 L619.3,474.4 L620.9,475.7 L622.4,478.8 L624.0,480.0 L626.0,482.0 L628.0,483.5 L630.0,485.7 L632.0,485.1 L634.0,486.6 L636.0,489.7 L638.0,490.6 L640.0,492.5 L642.0,492.9 L644.0,496.8 L646.2,495.9 L648.4,499.7 L650.7,501.0 L652.9,501.2 L655.1,501.5 L657.3,504.5 L659.6,504.4 L661.8,506.4 L664.0,506.8 L666.4,507.9 L668.8,504.9 L671.2,502.7 L673.6,500.3 L676.0,500.7 L677.2,498.6 L678.5,496.1 L679.8,491.2 L681.0,489.6 L682.2,486.9 L683.5,485.8 L684.8,481.4 L686.0,480.3 L688.4,480.3 L690.8,478.4 L693.2,474.8 L695.6,473.9 L698.0,472.8 L700.3,476.3 L702.7,477.6 L705.0,479.1 L707.3,480.5 L709.7,482.0 L712.0,484.4 L714.3,485.8 L716.7,488.0 L719.0,488.7 L721.3,490.3 L723.7,492.0 L726.0,493.1 L727.8,494.5 L729.6,494.1 L731.5,498.0 L733.3,500.4 L735.1,500.9 L736.9,504.1 L738.7,503.7 L740.5,508.0 L742.4,508.2 L744.2,510.8 L746.0,511.2 L747.4,513.6 L748.8,515.9 L750.2,518.0 L751.6,519.5 L753.0,522.8 L754.4,526.8 L755.8,527.9 L757.2,531.0 L758.6,532.7 L760.0,535.1 L761.8,537.4 L763.6,538.4 L765.4,538.7 L767.2,540.4 L769.0,542.7 L770.8,543.2 L772.6,545.7 L774.4,549.7 L776.2,551.6 L778.0,551.4 L780.0,551.1 L782.0,549.3 L784.0,547.9 L786.0,545.9 L788.0,543.2 L790.0,540.0 L792.0,540.6 L794.0,537.2 L796.0,536.4 L797.7,533.6 L799.4,532.1 L801.1,531.5 L802.9,526.9 L804.6,526.1 L806.3,524.5 L808.0,522.1 L810.4,522.3 L812.8,519.3 L815.2,519.8 L817.6,517.8 L820.0,517.6 L822.7,516.0 L825.3,517.7 L828.0,519.3 L829.6,519.4 L831.2,514.4 L832.8,513.2 L834.4,512.7 L836.0,511.6 L837.6,506.9 L839.2,505.8 L840.8,504.6 L842.4,502.6 L844.0,500.8 L846.5,499.9 L849.0,497.1 L851.5,496.2 L854.0,494.4 L856.4,497.6 L858.7,496.8 L861.1,497.9 L863.5,501.2 L865.8,501.0 L868.2,501.8 L870.5,502.9 L872.9,503.6 L875.3,504.8 L877.6,504.4 L880.0,504.5 L882.5,505.2 L885.0,505.7 L887.5,507.5 L890.0,507.4 L892.5,508.0 L895.0,510.0 L897.5,512.3 L900.0,512.0 L902.5,511.2 L905.0,513.6 L907.5,512.2 L910.0,512.6 L912.5,513.8 L915.0,514.7 L917.5,516.2 L920.0,515.8 L922.5,517.3 L925.0,515.6 L927.5,519.0 L930.0,517.4 L932.5,519.7 L935.0,517.4 L937.5,520.7 L940.0,519.0 L942.5,522.0 L945.0,522.6 L947.5,522.9 L950.0,522.2 L952.5,522.0 L955.0,523.4 L957.5,526.7 L960.0,524.8 L962.7,526.6 L965.3,526.3 L968.0,526.6 L970.7,524.9 L973.3,524.7 L976.0,524.6 L977.8,529.7 L979.5,529.6 L981.2,532.5 L983.0,534.2 L984.8,535.0 L986.5,536.4 L988.2,538.3 L990.0,543.3 L992.5,541.4 L995.0,545.2 L997.5,543.8 L1000.0,545.8 L1002.5,544.4 L1005.0,547.5 L1007.5,546.4 L1010.0,547.5 L1012.2,549.5 L1014.4,549.4 L1016.6,551.3 L1018.8,554.7 L1021.0,554.2 L1023.2,556.0 L1025.4,558.8 L1027.6,558.2 L1029.8,559.5 L1032.0,561.0 L1034.4,560.4 L1036.8,559.1 L1039.2,558.9 L1041.6,557.1 L1044.0,557.4 L1045.7,552.3 L1047.4,552.6 L1049.1,551.3 L1050.9,547.0 L1052.6,544.2 L1054.3,543.8 L1056.0,540.6 L1058.7,541.8 L1061.3,542.8 L1064.0,540.5 L1066.7,540.6 L1069.3,541.9 L1072.0,540.8 L1074.7,541.0 L1077.3,541.8 L1080.0,540.5 L1082.7,540.3 L1085.3,541.5 L1088.0,541.9 L1089.6,546.1 L1091.2,547.0 L1092.8,547.5 L1094.4,550.5 L1096.0,554.9 L1098.7,554.7 L1101.3,556.3 L1104.0,557.1 L1106.7,557.2 L1109.3,554.7 L1112.0,558.4 L1114.7,557.2 L1117.3,556.5 L1120.0,556.7 L1122.0,561.4 L1124.0,560.9 L1126.0,562.4 L1128.0,565.1 L1130.0,569.7 L1132.0,566.2 L1134.0,565.7 L1136.0,561.5 L1138.0,561.4 L1140.0,559.3 L1142.5,559.8 L1145.0,562.7 L1147.5,562.4 L1150.0,562.5 L1152.5,566.9 L1155.0,565.9 L1157.5,565.7 L1160.0,566.0 L1162.4,569.9 L1164.7,570.6 L1167.1,569.9 L1169.5,573.0 L1171.8,575.3 L1174.2,575.8 L1176.5,575.8 L1178.9,578.2 L1181.3,579.9 L1183.6,581.3 L1186.0,580.5 L1188.7,583.0 L1191.3,583.4 L1194.0,582.3 L1196.7,582.6 L1199.3,580.3 L1202.0,582.3 L1204.7,579.1 L1207.3,579.1 L1210.0,580.4 L1212.5,581.9 L1215.0,578.6 L1217.5,579.3 L1220.0,578.7 L1222.5,580.6 L1225.0,579.5 L1227.5,579.9 L1230.0,582.4 L1232.5,581.9 L1235.0,583.5 L1237.5,581.4 L1240.0,582.8 L1242.5,580.3 L1245.0,584.7 L1247.5,582.0 L1250.0,583.4 L1252.5,583.9 L1255.0,586.2 L1257.5,584.6 L1260.0,587.1 L1262.5,585.9 L1265.0,584.5 L1267.5,587.6 L1270.0,585.2 L1272.5,589.1 L1275.0,587.1 L1277.5,586.4 L1280.0,590.0 L1282.5,587.7 L1285.0,588.6 L1287.5,588.8 L1290.0,590.7 L1292.5,588.4 L1295.0,590.4 L1297.5,590.0 L1300.0,593.5 L1302.5,590.3 L1305.0,593.5 L1307.5,592.4 L1310.0,593.8 L1312.5,594.8 L1315.0,595.9 L1317.5,593.9 L1320.0,594.8 L1322.5,595.0 L1325.0,599.4 L1327.5,596.4 L1330.0,597.0 L1332.5,599.4 L1335.0,600.4 L1337.5,602.4 L1340.0,599.3 L1342.5,600.8 L1345.0,601.1 L1347.5,603.7 L1350.0,603.8 L1352.5,604.4 L1355.0,607.5 L1357.5,607.2 L1360.0,609.0 L1362.5,610.3 L1365.0,607.9 L1367.5,611.9 L1370.0,610.2 L1372.5,609.4 L1375.0,614.3 L1377.5,611.3 L1380.0,611.7 L1382.5,613.8 L1385.0,614.5 L1387.5,618.4 L1390.0,618.7 L1392.5,617.4 L1395.0,618.6 L1397.5,620.9 L1400.0,621.4 L1402.5,621.4 L1405.0,621.4 L1407.5,620.2 L1410.0,621.4 L1412.5,624.1 L1415.0,624.4 L1417.5,626.1 L1420.0,627.2 L1422.5,628.2 L1425.0,625.2 L1427.5,625.3 L1430.0,629.9 L1432.5,629.0 L1435.0,627.8 L1437.5,630.9 L1440.0,629.5 L1442.5,630.1 L1445.0,631.4 L1447.5,632.8 L1450.0,634.2 L1452.5,631.9 L1455.0,635.8 L1457.5,635.9 L1460.0,635.9 L1462.3,637.9 L1464.6,639.6 L1466.9,636.7 L1469.1,640.1 L1471.4,642.1 L1473.7,643.3 L1476.0,644.1 L1478.3,642.8 L1480.6,647.7 L1482.9,647.9 L1485.1,646.2 L1487.4,648.2 L1489.7,651.9 L1492.0,649.2 L1494.3,651.3 L1496.6,655.1 L1498.9,655.8 L1501.1,653.5 L1503.4,657.1 L1505.7,656.3 L1508.0,658.8 L1510.6,659.1 L1513.1,655.7 L1515.7,656.0 L1518.3,655.7 L1520.9,655.8 L1523.4,654.4 L1526.0,654.7 L1528.6,655.8 L1531.1,655.7 L1533.7,653.7 L1536.3,656.1 L1538.9,657.6 L1541.4,655.6 L1544.0,654.3 L1546.6,655.8 L1549.1,654.3 L1551.7,652.7 L1554.3,654.1 L1556.9,651.5 L1559.4,654.6 L1562.0,651.8 L1564.6,652.6 L1567.1,655.4 L1569.7,654.2 L1572.3,654.3 L1574.9,653.1 L1577.4,652.9 L1580.0,653.0 L1582.5,654.4 L1585.0,650.6 L1587.5,653.6 L1590.0,651.3 L1592.5,651.2 L1595.0,654.1 L1597.5,653.1 L1600.0,654.4 L1602.5,654.6 L1605.0,653.3 L1607.5,651.4 L1610.0,650.6 L1612.5,653.3 L1615.0,654.3 L1617.5,652.1 L1620.0,651.2 L1622.5,650.9 L1625.0,651.9 L1627.5,654.6 L1630.0,651.2 L1632.5,652.4 L1635.0,652.7 L1637.5,655.0 L1640.0,656.4 L1642.5,651.4 L1645.0,651.7 L1647.5,655.7 L1650.0,655.7 L1652.5,651.4 L1655.0,652.2 L1657.5,652.9 L1660.0,651.8 L1662.5,652.1 L1665.0,652.2 L1667.5,651.0 L1670.0,649.8 L1672.5,649.8 L1675.0,650.0 L1677.5,649.5 L1680.0,652.0 L1682.5,652.1 L1685.0,649.8 L1687.5,652.3 L1690.0,651.8 L1692.5,649.7 L1695.0,650.3 L1697.5,648.6 L1700.0,652.1 L1702.4,649.6 L1704.8,646.3 L1707.2,646.1 L1709.6,648.1 L1712.0,645.8 L1714.4,646.8 L1716.8,643.6 L1719.2,645.7 L1721.6,645.0 L1724.0,640.8 L1726.4,642.5 L1728.8,639.8 L1731.2,641.7 L1733.6,641.4 L1736.0,640.6 L1738.4,637.2 L1740.8,635.8 L1743.2,637.8 L1745.6,636.6 L1748.0,633.8 L1750.4,633.4 L1752.8,634.6 L1755.2,631.5 L1757.6,633.4 L1760.0,630.7 L1762.5,630.2 L1765.0,630.3 L1767.5,630.2 L1770.0,630.4 L1772.5,626.4 L1775.0,629.1 L1777.5,626.0 L1780.0,625.7 L1782.5,626.7 L1785.0,626.3 L1787.5,625.2 L1790.0,625.9 L1792.5,621.9 L1795.0,621.8 L1797.5,622.8 L1800.0,620.2 L1802.5,619.0 L1805.0,618.7 L1807.5,620.6 L1810.0,620.2 L1812.5,619.0 L1815.0,619.5 L1817.5,618.1 L1820.0,615.1 L1822.4,614.3 L1824.8,615.4 L1827.2,611.5 L1829.6,613.3 L1832.0,610.1 L1834.4,609.1 L1836.8,610.5 L1839.2,608.0 L1841.6,610.8 L1844.0,609.7 L1846.4,607.0 L1848.8,605.0 L1851.2,603.8 L1853.6,604.8 L1856.0,604.1 L1858.4,602.6 L1860.8,603.4 L1863.2,601.7 L1865.6,602.1 L1868.0,598.2 L1870.4,597.2 L1872.8,597.9 L1875.2,597.5 L1877.6,595.7 L1880.0,596.8 L1882.4,593.6 L1884.7,592.8 L1887.1,592.4 L1889.4,592.2 L1891.8,591.3 L1894.1,588.4 L1896.5,587.5 L1898.8,588.5 L1901.2,587.3 L1903.5,584.8 L1905.9,581.3 L1908.2,581.7 L1910.6,581.3 L1912.9,578.5 L1915.3,576.3 L1917.6,579.3 L1920.0,577.8 L1922.4,573.3 L1924.7,573.7 L1927.1,573.3 L1929.4,570.9 L1931.8,568.8 L1934.1,570.7 L1936.5,569.8 L1938.8,567.3 L1941.2,564.7 L1943.5,565.0 L1945.9,562.6 L1948.2,565.3 L1950.6,560.3 L1952.9,560.3 L1955.3,561.3 L1957.6,557.5 L1960.0,556.3 L1962.5,555.4 L1965.0,555.1 L1967.5,555.9 L1970.0,556.4 L1972.5,552.8 L1975.0,552.1 L1977.5,553.9 L1980.0,551.7 L1982.5,551.9 L1985.0,551.7 L1987.5,552.8 L1990.0,556.5 L1992.5,553.5 L1995.0,554.7 L1997.5,557.4 L2000.0,558.6 L2002.5,559.3 L2005.0,558.1 L2007.5,560.8 L2010.0,559.9 L2012.5,559.3 L2015.0,560.6 L2017.5,562.3 L2020.0,563.0 L2022.5,561.0 L2025.0,561.7 L2027.5,565.4 L2030.0,562.4 L2032.5,565.8 L2035.0,564.3 L2037.5,564.5 L2040.0,565.0 L2042.5,566.4 L2045.0,569.0 L2047.5,566.1 L2050.0,569.4 L2052.5,567.8 L2055.0,567.7 L2057.5,570.5 L2060.0,569.4 L2062.5,569.3 L2065.0,570.7 L2067.5,572.8 L2070.0,573.4 L2072.5,572.8 L2075.0,571.1 L2077.5,574.5 L2080.0,574.4 L2082.5,575.7 L2085.1,576.1 L2087.6,573.8 L2090.1,575.9 L2092.7,576.0 L2095.2,574.0 L2097.8,574.5 L2100.3,574.7 L2102.8,574.7 L2105.4,575.0 L2107.9,574.1 L2110.4,574.7 L2113.0,577.5 L2115.5,575.7 L2118.0,576.7 L2120.6,577.8 L2123.1,577.5 L2125.7,575.7 L2128.2,578.4 L2130.7,578.1 L2133.3,578.9 L2135.8,578.1 L2138.3,578.3 L2140.9,578.7 L2143.4,576.7 L2146.0,578.4 L2148.5,577.5 L2151.0,579.4 L2153.6,576.9 L2156.1,578.5 L2158.6,577.9 L2161.2,579.9 L2163.7,578.3 L2166.2,580.2 L2168.8,580.4 L2171.3,580.7 L2173.9,578.1 L2176.4,581.2 L2178.9,580.6 L2181.5,580.5 L2184.0,580.0" fill="none" stroke="#ff8000" stroke-width="13" stroke-linejoin="round" stroke-linecap="round"/>
<g fill="#f4f0f0" opacity="0.85"><rect x="164.9" y="1121.3" width="2.6" height="2.6"/><rect x="165.1" y="1115.8" width="2.6" height="2.6"/><rect x="166.7" y="1107.0" width="2.6" height="2.6"/><rect x="163.6" y="1096.9" width="2.6" height="2.6"/><rect x="165.4" y="1087.3" width="2.6" height="2.6"/><rect x="175.6" y="1067.3" width="2.6" height="2.6"/><rect x="184.4" y="1043.2" width="2.6" height="2.6"/><rect x="195.9" y="1011.2" width="2.6" height="2.6"/><rect x="196.8" y="1001.5" width="2.6" height="2.6"/><rect x="205.3" y="975.3" width="2.6" height="2.6"/><rect x="213.8" y="952.0" width="2.6" height="2.6"/><rect x="223.5" y="918.5" width="2.6" height="2.6"/><rect x="223.7" y="911.2" width="2.6" height="2.6"/><rect x="229.6" y="888.1" width="2.6" height="2.6"/><rect x="238.1" y="865.0" width="2.6" height="2.6"/><rect x="242.3" y="844.6" width="2.6" height="2.6"/><rect x="244.3" y="834.7" width="2.6" height="2.6"/><rect x="244.7" y="825.3" width="2.6" height="2.6"/><rect x="249.0" y="818.7" width="2.6" height="2.6"/><rect x="252.9" y="793.9" width="2.6" height="2.6"/><rect x="260.7" y="771.1" width="2.6" height="2.6"/><rect x="262.0" y="764.6" width="2.6" height="2.6"/><rect x="265.0" y="755.6" width="2.6" height="2.6"/><rect x="265.2" y="736.3" width="2.6" height="2.6"/><rect x="266.8" y="729.7" width="2.6" height="2.6"/><rect x="274.3" y="700.8" width="2.6" height="2.6"/><rect x="277.2" y="693.7" width="2.6" height="2.6"/><rect x="279.2" y="667.9" width="2.6" height="2.6"/><rect x="286.2" y="637.6" width="2.6" height="2.6"/><rect x="288.5" y="628.8" width="2.6" height="2.6"/><rect x="291.7" y="622.1" width="2.6" height="2.6"/><rect x="294.0" y="594.2" width="2.6" height="2.6"/><rect x="294.3" y="587.4" width="2.6" height="2.6"/><rect x="297.7" y="576.0" width="2.6" height="2.6"/><rect x="299.8" y="568.0" width="2.6" height="2.6"/><rect x="300.6" y="553.8" width="2.6" height="2.6"/><rect x="304.6" y="522.3" width="2.6" height="2.6"/><rect x="308.0" y="499.1" width="2.6" height="2.6"/><rect x="314.4" y="470.9" width="2.6" height="2.6"/><rect x="317.6" y="456.2" width="2.6" height="2.6"/><rect x="320.4" y="437.9" width="2.6" height="2.6"/><rect x="321.3" y="425.8" width="2.6" height="2.6"/><rect x="323.0" y="420.2" width="2.6" height="2.6"/><rect x="321.3" y="410.3" width="2.6" height="2.6"/><rect x="325.1" y="388.6" width="2.6" height="2.6"/><rect x="333.0" y="370.4" width="2.6" height="2.6"/><rect x="332.6" y="367.9" width="2.6" height="2.6"/><rect x="338.6" y="359.1" width="2.6" height="2.6"/><rect x="341.4" y="353.3" width="2.6" height="2.6"/><rect x="347.6" y="348.6" width="2.6" height="2.6"/><rect x="354.4" y="336.6" width="2.6" height="2.6"/><rect x="361.9" y="311.9" width="2.6" height="2.6"/><rect x="373.1" y="293.6" width="2.6" height="2.6"/><rect x="377.9" y="288.9" width="2.6" height="2.6"/><rect x="386.7" y="276.4" width="2.6" height="2.6"/><rect x="391.9" y="269.8" width="2.6" height="2.6"/><rect x="409.3" y="255.2" width="2.6" height="2.6"/><rect x="427.6" y="250.1" width="2.6" height="2.6"/><rect x="434.5" y="254.7" width="2.6" height="2.6"/><rect x="460.4" y="249.0" width="2.6" height="2.6"/><rect x="173.5" y="1211.5" width="2.6" height="2.6"/><rect x="177.5" y="1194.4" width="2.6" height="2.6"/><rect x="177.5" y="1182.3" width="2.6" height="2.6"/><rect x="180.2" y="1170.5" width="2.6" height="2.6"/><rect x="198.5" y="1112.9" width="2.6" height="2.6"/><rect x="201.5" y="1103.8" width="2.6" height="2.6"/><rect x="207.3" y="1092.5" width="2.6" height="2.6"/><rect x="210.3" y="1078.6" width="2.6" height="2.6"/><rect x="229.8" y="1014.6" width="2.6" height="2.6"/><rect x="232.7" y="1006.3" width="2.6" height="2.6"/><rect x="244.5" y="957.2" width="2.6" height="2.6"/><rect x="249.3" y="947.3" width="2.6" height="2.6"/><rect x="253.8" y="936.7" width="2.6" height="2.6"/><rect x="264.5" y="892.4" width="2.6" height="2.6"/><rect x="267.9" y="885.1" width="2.6" height="2.6"/><rect x="272.4" y="848.9" width="2.6" height="2.6"/><rect x="277.4" y="837.5" width="2.6" height="2.6"/><rect x="289.5" y="799.9" width="2.6" height="2.6"/><rect x="290.6" y="791.7" width="2.6" height="2.6"/><rect x="298.9" y="755.1" width="2.6" height="2.6"/><rect x="313.4" y="699.6" width="2.6" height="2.6"/><rect x="329.1" y="640.6" width="2.6" height="2.6"/><rect x="345.5" y="611.4" width="2.6" height="2.6"/><rect x="374.7" y="560.0" width="2.6" height="2.6"/><rect x="382.1" y="499.2" width="2.6" height="2.6"/><rect x="169.3" y="1160.1" width="2.6" height="2.6"/><rect x="180.0" y="1133.8" width="2.6" height="2.6"/><rect x="184.0" y="1119.0" width="2.6" height="2.6"/><rect x="198.5" y="1048.8" width="2.6" height="2.6"/><rect x="203.8" y="1038.4" width="2.6" height="2.6"/><rect x="210.7" y="1007.0" width="2.6" height="2.6"/><rect x="233.5" y="941.1" width="2.6" height="2.6"/><rect x="237.3" y="926.7" width="2.6" height="2.6"/><rect x="238.4" y="915.8" width="2.6" height="2.6"/><rect x="241.7" y="896.7" width="2.6" height="2.6"/><rect x="248.5" y="875.9" width="2.6" height="2.6"/><rect x="258.9" y="826.6" width="2.6" height="2.6"/><rect x="262.7" y="815.9" width="2.6" height="2.6"/><rect x="265.9" y="798.6" width="2.6" height="2.6"/><rect x="277.9" y="765.7" width="2.6" height="2.6"/><rect x="294.5" y="697.6" width="2.6" height="2.6"/><rect x="299.8" y="670.1" width="2.6" height="2.6"/><rect x="307.5" y="612.6" width="2.6" height="2.6"/><rect x="312.9" y="597.6" width="2.6" height="2.6"/><rect x="331.9" y="537.9" width="2.6" height="2.6"/><rect x="342.0" y="529.8" width="2.6" height="2.6"/><rect x="360.3" y="508.5" width="2.6" height="2.6"/><rect x="369.5" y="494.1" width="2.6" height="2.6"/><rect x="377.0" y="467.4" width="2.6" height="2.6"/><rect x="385.5" y="435.2" width="2.6" height="2.6"/><rect x="394.5" y="427.7" width="2.6" height="2.6"/><rect x="402.5" y="435.2" width="2.6" height="2.6"/></g>
<line x1="302" y1="1538" x2="302" y2="966" stroke="#00a2ff" stroke-width="7" stroke-dasharray="25 15 7 16.6 7 13.4"/>
<line x1="644.5" y1="320" x2="644.5" y2="1349" stroke="#00a2ff" stroke-width="7" stroke-dasharray="25 15 7 16.6 7 13"/>
<rect x="163.5" y="23.5" width="2022.5" height="1630.3" fill="none" stroke="#000" stroke-width="7.2" stroke-linejoin="round"/>
<g><line x1="283.0" y1="1623.5" x2="283.0" y2="1654" stroke="#000" stroke-width="6.8"/><line x1="521.0" y1="1623.5" x2="521.0" y2="1654" stroke="#000" stroke-width="6.8"/><line x1="760.0" y1="1623.5" x2="760.0" y2="1654" stroke="#000" stroke-width="6.8"/><line x1="998.3" y1="1623.5" x2="998.3" y2="1654" stroke="#000" stroke-width="6.8"/><line x1="1232.6" y1="1623.5" x2="1232.6" y2="1654" stroke="#000" stroke-width="6.8"/><line x1="1470.4" y1="1623.5" x2="1470.4" y2="1654" stroke="#000" stroke-width="6.8"/><line x1="1709.0" y1="1623.5" x2="1709.0" y2="1654" stroke="#000" stroke-width="6.8"/><line x1="1947.5" y1="1623.5" x2="1947.5" y2="1654" stroke="#000" stroke-width="6.8"/><line x1="402.0" y1="1638.5" x2="402.0" y2="1654" stroke="#000" stroke-width="6.8"/><line x1="641.0" y1="1638.5" x2="641.0" y2="1654" stroke="#000" stroke-width="6.8"/><line x1="879.0" y1="1638.5" x2="879.0" y2="1654" stroke="#000" stroke-width="6.8"/><line x1="1113.0" y1="1638.5" x2="1113.0" y2="1654" stroke="#000" stroke-width="6.8"/><line x1="1351.4" y1="1638.5" x2="1351.4" y2="1654" stroke="#000" stroke-width="6.8"/><line x1="1589.6" y1="1638.5" x2="1589.6" y2="1654" stroke="#000" stroke-width="6.8"/><line x1="1828.4" y1="1638.5" x2="1828.4" y2="1654" stroke="#000" stroke-width="6.8"/><line x1="2067.0" y1="1638.5" x2="2067.0" y2="1654" stroke="#000" stroke-width="6.8"/></g>
<g><text transform="translate(283.00,1745.82) scale(1.0136,0.9430)" style="font-family:'Liberation Serif','Times New Roman',serif;font-size:77px;font-weight:bold" fill="#000" stroke="#fdfdfd" stroke-width="1.2" text-anchor="middle">800</text><text transform="translate(521.00,1745.82) scale(1.0136,0.9430)" style="font-family:'Liberation Serif','Times New Roman',serif;font-size:77px;font-weight:bold" fill="#000" stroke="#fdfdfd" stroke-width="1.2" text-anchor="middle">1200</text><text transform="translate(760.00,1745.82) scale(1.0136,0.9430)" style="font-family:'Liberation Serif','Times New Roman',serif;font-size:77px;font-weight:bold" fill="#000" stroke="#fdfdfd" stroke-width="1.2" text-anchor="middle">1600</text><text transform="translate(998.30,1745.82) scale(1.0136,0.9430)" style="font-family:'Liberation Serif','Times New Roman',serif;font-size:77px;font-weight:bold" fill="#000" stroke="#fdfdfd" stroke-width="1.2" text-anchor="middle">2000</text><text transform="translate(1232.60,1745.82) scale(1.0136,0.9430)" style="font-family:'Liberation Serif','Times New Roman',serif;font-size:77px;font-weight:bold" fill="#000" stroke="#fdfdfd" stroke-width="1.2" text-anchor="middle">2400</text><text transform="translate(1470.40,1745.82) scale(1.0136,0.9430)" style="font-family:'Liberation Serif','Times New Roman',serif;font-size:77px;font-weight:bold" fill="#000" stroke="#fdfdfd" stroke-width="1.2" text-anchor="middle">2800</text><text transform="translate(1709.00,1745.82) scale(1.0136,0.9430)" style="font-family:'Liberation Serif','Times New Roman',serif;font-size:77px;font-weight:bold" fill="#000" stroke="#fdfdfd" stroke-width="1.2" text-anchor="middle">3200</text><text transform="translate(1947.50,1745.82) scale(1.0136,0.9430)" style="font-family:'Liberation Serif','Times New Roman',serif;font-size:77px;font-weight:bold" fill="#000" stroke="#fdfdfd" stroke-width="1.2" text-anchor="middle">3600</text><text transform="translate(2185.50,1745.82) scale(1.0136,0.9430)" style="font-family:'Liberation Serif','Times New Roman',serif;font-size:77px;font-weight:bold" fill="#000" stroke="#fdfdfd" stroke-width="1.2" text-anchor="middle">4000</text></g>
<text transform="translate(904.56,1877.79) rotate(0) scale(0.9597,1.0112)" style="font-family:'Liberation Serif','Times New Roman',serif;font-size:90px;font-weight:bold" fill="#000" stroke="#fdfdfd" stroke-width="1.2" text-anchor="start">Wavenumber (cm<tspan dy="-32" font-size="56">−1</tspan><tspan dy="32">)</tspan></text>
<text transform="translate(98.55,1110.14) rotate(-90) scale(0.9619,0.9688)" style="font-family:'Liberation Serif','Times New Roman',serif;font-size:90px;font-weight:bold" fill="#000" stroke="#fdfdfd" stroke-width="1.2" text-anchor="start">% Transmittance</text>
<rect x="1600" y="1128" width="580" height="479" fill="#fdfdfd"/>
<g><line x1="1629" y1="1185" x2="1821" y2="1185" stroke="#0000a0" stroke-width="8"/><line x1="1723" y1="1185" x2="1723" y2="1177" stroke="#0000a0" stroke-width="4"/><text transform="translate(1839.04,1213.06) rotate(0) scale(0.9563,0.9764)" style="font-family:'Liberation Serif','Times New Roman',serif;font-size:90px;font-weight:bold" fill="#000" stroke="#fdfdfd" stroke-width="1.2" text-anchor="start">MoS<tspan dy="23" font-size="58">2</tspan></text><line x1="1629" y1="1312" x2="1821" y2="1312" stroke="#800000" stroke-width="8"/><line x1="1723" y1="1312" x2="1723" y2="1304" stroke="#800000" stroke-width="4"/><text transform="translate(1841.06,1340.28) rotate(0) scale(0.9674,0.9442)" style="font-family:'Liberation Serif','Times New Roman',serif;font-size:90px;font-weight:bold" fill="#000" stroke="#fdfdfd" stroke-width="1.2" text-anchor="start">TiO<tspan dy="23" font-size="58">2</tspan></text><line x1="1629" y1="1435" x2="1821" y2="1435" stroke="#008000" stroke-width="8"/><line x1="1723" y1="1435" x2="1723" y2="1443" stroke="#008000" stroke-width="4"/><text transform="translate(1839.04,1466.10) rotate(0) scale(0.9633,0.9586)" style="font-family:'Liberation Serif','Times New Roman',serif;font-size:90px;font-weight:bold" fill="#000" stroke="#fdfdfd" stroke-width="1.2" text-anchor="start">MOT11</text><line x1="1629" y1="1543" x2="1821" y2="1543" stroke="#ff8000" stroke-width="8"/><line x1="1723" y1="1534" x2="1723" y2="1552" stroke="#ff8000" stroke-width="4"/><text transform="translate(1839.05,1573.55) rotate(0) scale(0.9457,0.9679)" style="font-family:'Liberation Serif','Times New Roman',serif;font-size:90px;font-weight:bold" fill="#000" stroke="#fdfdfd" stroke-width="1.2" text-anchor="start">MOT14</text></g>
</svg>
</body></html>
